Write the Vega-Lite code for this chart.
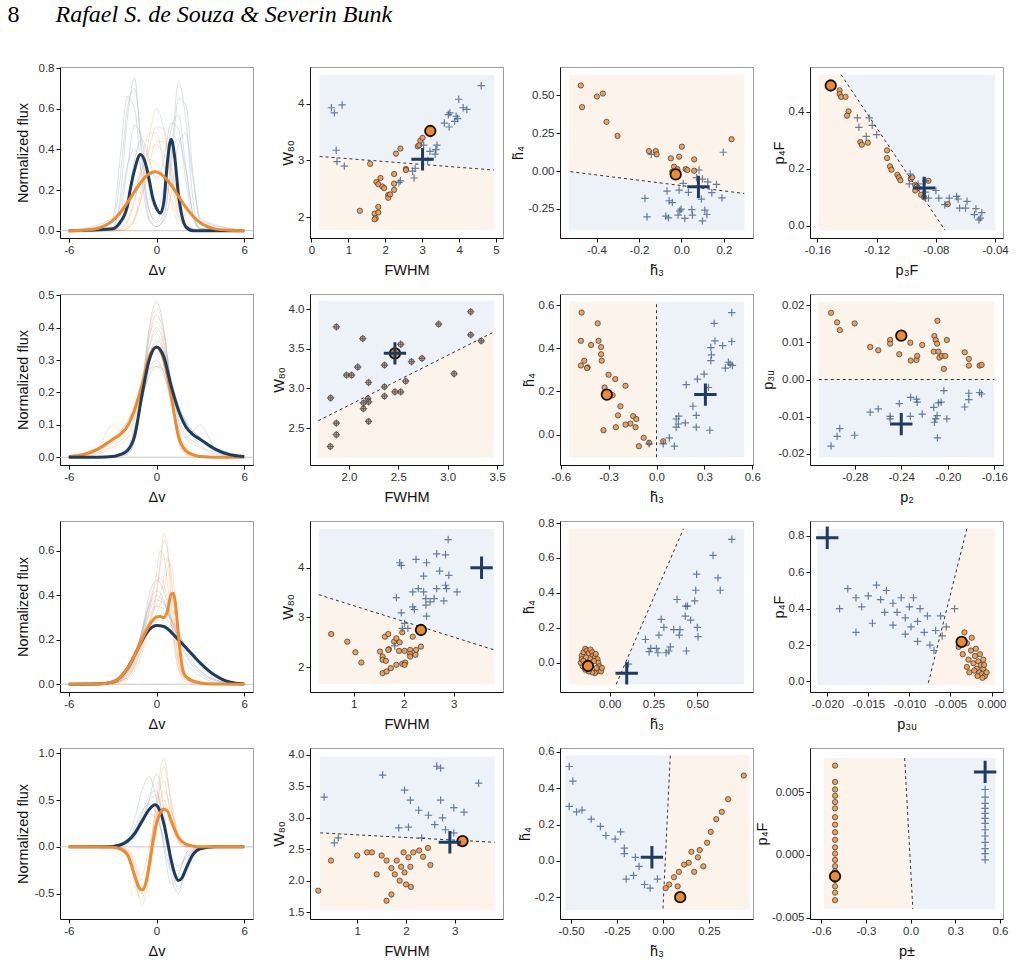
{
"$schema":"https://vega.github.io/schema/vega-lite/v6.json",
"padding":{"left":7,"top":2,"right":0,"bottom":0},
"title":{"text":"8","subtitle":"\u200b\u00a0\u00a0\u00a0\u00a0\u00a0\u00a0\u00a0\u00a0Rafael S. de Souza & Severin Bunk","anchor":"start","frame":"bounds","font":"Liberation Serif","fontSize":24,"fontWeight":"normal","color":"#000","subtitleFont":"Liberation Serif","subtitleFontSize":24,"subtitleFontStyle":"italic","subtitleColor":"#000","subtitlePadding":-24,"offset":35,"dx":-7},
"config":{
"font":"Liberation Sans",
"view":{"stroke":"#9e9e9e","strokeWidth":1},
"axis":{"grid":false,"domainColor":"#111","domainWidth":1,"tickColor":"#111","tickSize":4,"labelColor":"#303030","labelFont":"Liberation Sans","labelFontSize":11.5,"labelPadding":2,"labelFlush":false,"labelOverlap":false,"titleFont":"Liberation Sans","titleFontSize":14.5,"titleFontWeight":"normal","titleColor":"#111"},
"axisX":{"titlePadding":8},
"axisY":{"titlePadding":2},
"locale":{"number":{"decimal":".","thousands":",","grouping":[3],"currency":["$",""],"minus":"-"}}
},
"datasets":{
"r1c1":[
{"s":"z","x":-6.6,"y":0},{"s":"z","x":6.6,"y":0},
{"s":"b1","x":-6,"y":0},{"s":"b1","x":-3,"y":0.01},{"s":"b1","x":-2.5,"y":0.15},{"s":"b1","x":-2,"y":0.55},{"s":"b1","x":-1.5,"y":0.75},{"s":"b1","x":-1,"y":0.35},{"s":"b1","x":-0.5,"y":0.06},{"s":"b1","x":0,"y":0.02},{"s":"b1","x":0.5,"y":0.06},{"s":"b1","x":1,"y":0.35},{"s":"b1","x":1.5,"y":0.73},{"s":"b1","x":2,"y":0.55},{"s":"b1","x":2.5,"y":0.15},{"s":"b1","x":3,"y":0.01},{"s":"b1","x":6,"y":0},
{"s":"b2","x":-6,"y":0},{"s":"b2","x":-3,"y":0.01},{"s":"b2","x":-2.5,"y":0.07},{"s":"b2","x":-2,"y":0.3},{"s":"b2","x":-1.5,"y":0.52},{"s":"b2","x":-1,"y":0.45},{"s":"b2","x":-0.5,"y":0.2},{"s":"b2","x":0,"y":0.1},{"s":"b2","x":0.5,"y":0.22},{"s":"b2","x":1,"y":0.5},{"s":"b2","x":1.5,"y":0.57},{"s":"b2","x":2,"y":0.32},{"s":"b2","x":2.5,"y":0.08},{"s":"b2","x":3,"y":0.01},{"s":"b2","x":6,"y":0},
{"s":"b3","x":-6,"y":0},{"s":"b3","x":-3,"y":0.06},{"s":"b3","x":-2.5,"y":0.35},{"s":"b3","x":-2,"y":0.66},{"s":"b3","x":-1.5,"y":0.6},{"s":"b3","x":-1,"y":0.25},{"s":"b3","x":-0.5,"y":0.05},{"s":"b3","x":0,"y":0.02},{"s":"b3","x":0.5,"y":0.05},{"s":"b3","x":1,"y":0.18},{"s":"b3","x":1.5,"y":0.42},{"s":"b3","x":2,"y":0.48},{"s":"b3","x":2.5,"y":0.25},{"s":"b3","x":3,"y":0.05},{"s":"b3","x":6,"y":0},
{"s":"b4","x":-6,"y":0},{"s":"b4","x":-3,"y":0},{"s":"b4","x":-2.5,"y":0.02},{"s":"b4","x":-2,"y":0.12},{"s":"b4","x":-1.5,"y":0.35},{"s":"b4","x":-1,"y":0.45},{"s":"b4","x":-0.5,"y":0.35},{"s":"b4","x":0,"y":0.25},{"s":"b4","x":0.5,"y":0.35},{"s":"b4","x":1,"y":0.53},{"s":"b4","x":1.5,"y":0.5},{"s":"b4","x":2,"y":0.25},{"s":"b4","x":2.5,"y":0.06},{"s":"b4","x":3,"y":0.01},{"s":"b4","x":6,"y":0},
{"s":"b5","x":-6,"y":0},{"s":"b5","x":-3,"y":0.02},{"s":"b5","x":-2.5,"y":0.12},{"s":"b5","x":-2,"y":0.32},{"s":"b5","x":-1.5,"y":0.4},{"s":"b5","x":-1,"y":0.28},{"s":"b5","x":-0.5,"y":0.1},{"s":"b5","x":0,"y":0.04},{"s":"b5","x":0.5,"y":0.08},{"s":"b5","x":1,"y":0.3},{"s":"b5","x":1.5,"y":0.65},{"s":"b5","x":2,"y":0.62},{"s":"b5","x":2.5,"y":0.28},{"s":"b5","x":3,"y":0.06},{"s":"b5","x":6,"y":0},
{"s":"b6","x":-6,"y":0},{"s":"b6","x":-3,"y":0.04},{"s":"b6","x":-2.5,"y":0.25},{"s":"b6","x":-2,"y":0.6},{"s":"b6","x":-1.5,"y":0.7},{"s":"b6","x":-1,"y":0.4},{"s":"b6","x":-0.5,"y":0.1},{"s":"b6","x":0,"y":0.05},{"s":"b6","x":0.5,"y":0.15},{"s":"b6","x":1,"y":0.38},{"s":"b6","x":1.5,"y":0.45},{"s":"b6","x":2,"y":0.3},{"s":"b6","x":2.5,"y":0.08},{"s":"b6","x":3,"y":0.01},{"s":"b6","x":6,"y":0},
{"s":"o1","x":-6,"y":0},{"s":"o1","x":-3,"y":0},{"s":"o1","x":-2.5,"y":0},{"s":"o1","x":-2,"y":0.01},{"s":"o1","x":-1.5,"y":0.06},{"s":"o1","x":-1,"y":0.22},{"s":"o1","x":-0.5,"y":0.46},{"s":"o1","x":0,"y":0.6},{"s":"o1","x":0.5,"y":0.5},{"s":"o1","x":1,"y":0.26},{"s":"o1","x":1.5,"y":0.08},{"s":"o1","x":2,"y":0.02},{"s":"o1","x":2.5,"y":0},{"s":"o1","x":3,"y":0},{"s":"o1","x":6,"y":0},
{"s":"o2","x":-6,"y":0},{"s":"o2","x":-3,"y":0},{"s":"o2","x":-2.5,"y":0.005},{"s":"o2","x":-2,"y":0.04},{"s":"o2","x":-1.5,"y":0.14},{"s":"o2","x":-1,"y":0.34},{"s":"o2","x":-0.5,"y":0.48},{"s":"o2","x":0,"y":0.48},{"s":"o2","x":0.5,"y":0.32},{"s":"o2","x":1,"y":0.14},{"s":"o2","x":1.5,"y":0.04},{"s":"o2","x":2,"y":0.01},{"s":"o2","x":2.5,"y":0},{"s":"o2","x":3,"y":0},{"s":"o2","x":6,"y":0},
{"s":"o3","x":-6,"y":0},{"s":"o3","x":-3,"y":0.005},{"s":"o3","x":-2.5,"y":0.01},{"s":"o3","x":-2,"y":0.05},{"s":"o3","x":-1.5,"y":0.15},{"s":"o3","x":-1,"y":0.3},{"s":"o3","x":-0.5,"y":0.4},{"s":"o3","x":0,"y":0.42},{"s":"o3","x":0.5,"y":0.38},{"s":"o3","x":1,"y":0.27},{"s":"o3","x":1.5,"y":0.13},{"s":"o3","x":2,"y":0.04},{"s":"o3","x":2.5,"y":0.01},{"s":"o3","x":3,"y":0},{"s":"o3","x":6,"y":0},
{"s":"o4","x":-6,"y":0},{"s":"o4","x":-3,"y":0},{"s":"o4","x":-2.5,"y":0},{"s":"o4","x":-2,"y":0.01},{"s":"o4","x":-1.5,"y":0.05},{"s":"o4","x":-1,"y":0.18},{"s":"o4","x":-0.5,"y":0.4},{"s":"o4","x":0,"y":0.51},{"s":"o4","x":0.5,"y":0.5},{"s":"o4","x":1,"y":0.3},{"s":"o4","x":1.5,"y":0.11},{"s":"o4","x":2,"y":0.03},{"s":"o4","x":2.5,"y":0.005},{"s":"o4","x":3,"y":0},{"s":"o4","x":6,"y":0},
{"s":"o5","x":-6,"y":0},{"s":"o5","x":-3,"y":0.01},{"s":"o5","x":-2.5,"y":0.04},{"s":"o5","x":-2,"y":0.1},{"s":"o5","x":-1.5,"y":0.2},{"s":"o5","x":-1,"y":0.3},{"s":"o5","x":-0.5,"y":0.35},{"s":"o5","x":0,"y":0.33},{"s":"o5","x":0.5,"y":0.26},{"s":"o5","x":1,"y":0.16},{"s":"o5","x":1.5,"y":0.07},{"s":"o5","x":2,"y":0.02},{"s":"o5","x":2.5,"y":0.01},{"s":"o5","x":3,"y":0},{"s":"o5","x":6,"y":0},
{"s":"o6","x":-6,"y":0},{"s":"o6","x":-3,"y":0},{"s":"o6","x":-2.5,"y":0.005},{"s":"o6","x":-2,"y":0.02},{"s":"o6","x":-1.5,"y":0.06},{"s":"o6","x":-1,"y":0.17},{"s":"o6","x":-0.5,"y":0.32},{"s":"o6","x":0,"y":0.44},{"s":"o6","x":0.5,"y":0.44},{"s":"o6","x":1,"y":0.32},{"s":"o6","x":1.5,"y":0.17},{"s":"o6","x":2,"y":0.06},{"s":"o6","x":2.5,"y":0.01},{"s":"o6","x":3,"y":0},{"s":"o6","x":6,"y":0},
{"s":"B","x":-6,"y":0},{"s":"B","x":-3,"y":0.01},{"s":"B","x":-2.5,"y":0.04},{"s":"B","x":-2,"y":0.12},{"s":"B","x":-1.75,"y":0.22},{"s":"B","x":-1.5,"y":0.3},{"s":"B","x":-1.1,"y":0.375},{"s":"B","x":-0.75,"y":0.33},{"s":"B","x":-0.5,"y":0.25},{"s":"B","x":-0.25,"y":0.16},{"s":"B","x":0,"y":0.11},{"s":"B","x":0.27,"y":0.087},{"s":"B","x":0.5,"y":0.14},{"s":"B","x":0.75,"y":0.34},{"s":"B","x":1,"y":0.45},{"s":"B","x":1.25,"y":0.36},{"s":"B","x":1.5,"y":0.18},{"s":"B","x":1.75,"y":0.07},{"s":"B","x":2,"y":0.02},{"s":"B","x":2.5,"y":0},{"s":"B","x":6,"y":0},
{"s":"O","x":-6,"y":0},{"s":"O","x":-5,"y":0.002},{"s":"O","x":-4,"y":0.012},{"s":"O","x":-3,"y":0.05},{"s":"O","x":-2.5,"y":0.087},{"s":"O","x":-2,"y":0.137},{"s":"O","x":-1.5,"y":0.193},{"s":"O","x":-1,"y":0.245},{"s":"O","x":-0.5,"y":0.28},{"s":"O","x":-0.1,"y":0.29},{"s":"O","x":0.5,"y":0.268},{"s":"O","x":1,"y":0.225},{"s":"O","x":1.5,"y":0.17},{"s":"O","x":2,"y":0.116},{"s":"O","x":2.5,"y":0.071},{"s":"O","x":3,"y":0.039},{"s":"O","x":4,"y":0.009},{"s":"O","x":5,"y":0.002},{"s":"O","x":6,"y":0}
],
"r2c1":[
{"s":"z","x":-6.6,"y":0},{"s":"z","x":6.6,"y":0},
{"s":"b1","x":-6,"y":0},{"s":"b1","x":-4,"y":0},{"s":"b1","x":-3,"y":0},{"s":"b1","x":-2.5,"y":0.003},{"s":"b1","x":-2,"y":0.01},{"s":"b1","x":-1.5,"y":0.05},{"s":"b1","x":-1,"y":0.2},{"s":"b1","x":-0.5,"y":0.4},{"s":"b1","x":0,"y":0.48},{"s":"b1","x":0.5,"y":0.4},{"s":"b1","x":1,"y":0.22},{"s":"b1","x":1.5,"y":0.11},{"s":"b1","x":2,"y":0.06},{"s":"b1","x":2.5,"y":0.04},{"s":"b1","x":3,"y":0.03},{"s":"b1","x":4,"y":0.01},{"s":"b1","x":6,"y":0},
{"s":"b2","x":-6,"y":0},{"s":"b2","x":-4,"y":0},{"s":"b2","x":-3,"y":0.003},{"s":"b2","x":-2.5,"y":0.008},{"s":"b2","x":-2,"y":0.02},{"s":"b2","x":-1.5,"y":0.07},{"s":"b2","x":-1,"y":0.2},{"s":"b2","x":-0.5,"y":0.34},{"s":"b2","x":0,"y":0.4},{"s":"b2","x":0.5,"y":0.35},{"s":"b2","x":1,"y":0.24},{"s":"b2","x":1.5,"y":0.15},{"s":"b2","x":2,"y":0.09},{"s":"b2","x":2.5,"y":0.06},{"s":"b2","x":3,"y":0.045},{"s":"b2","x":4,"y":0.02},{"s":"b2","x":6,"y":0},
{"s":"b3","x":-6,"y":0},{"s":"b3","x":-4,"y":0},{"s":"b3","x":-3,"y":0.003},{"s":"b3","x":-2.5,"y":0.008},{"s":"b3","x":-2,"y":0.02},{"s":"b3","x":-1.5,"y":0.08},{"s":"b3","x":-1,"y":0.18},{"s":"b3","x":-0.5,"y":0.27},{"s":"b3","x":0,"y":0.3},{"s":"b3","x":0.5,"y":0.26},{"s":"b3","x":1,"y":0.17},{"s":"b3","x":1.5,"y":0.09},{"s":"b3","x":2,"y":0.06},{"s":"b3","x":2.5,"y":0.08},{"s":"b3","x":3,"y":0.1},{"s":"b3","x":4,"y":0.03},{"s":"b3","x":6,"y":0},
{"s":"b4","x":-6,"y":0},{"s":"b4","x":-4,"y":0},{"s":"b4","x":-3,"y":0.002},{"s":"b4","x":-2.5,"y":0.005},{"s":"b4","x":-2,"y":0.015},{"s":"b4","x":-1.5,"y":0.06},{"s":"b4","x":-1,"y":0.19},{"s":"b4","x":-0.5,"y":0.31},{"s":"b4","x":0,"y":0.36},{"s":"b4","x":0.5,"y":0.33},{"s":"b4","x":1,"y":0.24},{"s":"b4","x":1.5,"y":0.16},{"s":"b4","x":2,"y":0.11},{"s":"b4","x":2.5,"y":0.08},{"s":"b4","x":3,"y":0.06},{"s":"b4","x":4,"y":0.03},{"s":"b4","x":6,"y":0.005},
{"s":"b5","x":-6,"y":0},{"s":"b5","x":-4,"y":0.002},{"s":"b5","x":-3,"y":0.005},{"s":"b5","x":-2.5,"y":0.012},{"s":"b5","x":-2,"y":0.03},{"s":"b5","x":-1.5,"y":0.09},{"s":"b5","x":-1,"y":0.18},{"s":"b5","x":-0.5,"y":0.25},{"s":"b5","x":0,"y":0.28},{"s":"b5","x":0.5,"y":0.27},{"s":"b5","x":1,"y":0.22},{"s":"b5","x":1.5,"y":0.16},{"s":"b5","x":2,"y":0.11},{"s":"b5","x":2.5,"y":0.08},{"s":"b5","x":3,"y":0.06},{"s":"b5","x":4,"y":0.03},{"s":"b5","x":6,"y":0.005},
{"s":"b6","x":-6,"y":0},{"s":"b6","x":-4,"y":0},{"s":"b6","x":-3,"y":0.001},{"s":"b6","x":-2.5,"y":0.004},{"s":"b6","x":-2,"y":0.01},{"s":"b6","x":-1.5,"y":0.05},{"s":"b6","x":-1,"y":0.19},{"s":"b6","x":-0.5,"y":0.37},{"s":"b6","x":0,"y":0.44},{"s":"b6","x":0.5,"y":0.38},{"s":"b6","x":1,"y":0.23},{"s":"b6","x":1.5,"y":0.12},{"s":"b6","x":2,"y":0.07},{"s":"b6","x":2.5,"y":0.05},{"s":"b6","x":3,"y":0.035},{"s":"b6","x":4,"y":0.015},{"s":"b6","x":6,"y":0},
{"s":"o1","x":-6,"y":0},{"s":"o1","x":-4,"y":0.01},{"s":"o1","x":-3,"y":0.03},{"s":"o1","x":-2.5,"y":0.04},{"s":"o1","x":-2,"y":0.06},{"s":"o1","x":-1.5,"y":0.11},{"s":"o1","x":-1,"y":0.22},{"s":"o1","x":-0.5,"y":0.39},{"s":"o1","x":0,"y":0.46},{"s":"o1","x":0.5,"y":0.39},{"s":"o1","x":1,"y":0.2},{"s":"o1","x":1.5,"y":0.05},{"s":"o1","x":2,"y":0.01},{"s":"o1","x":2.5,"y":0.003},{"s":"o1","x":3,"y":0},{"s":"o1","x":4,"y":0},{"s":"o1","x":6,"y":0},
{"s":"o2","x":-6,"y":0},{"s":"o2","x":-4,"y":0.02},{"s":"o2","x":-3,"y":0.045},{"s":"o2","x":-2.5,"y":0.06},{"s":"o2","x":-2,"y":0.09},{"s":"o2","x":-1.5,"y":0.15},{"s":"o2","x":-1,"y":0.24},{"s":"o2","x":-0.5,"y":0.34},{"s":"o2","x":0,"y":0.38},{"s":"o2","x":0.5,"y":0.33},{"s":"o2","x":1,"y":0.2},{"s":"o2","x":1.5,"y":0.07},{"s":"o2","x":2,"y":0.02},{"s":"o2","x":2.5,"y":0.008},{"s":"o2","x":3,"y":0.003},{"s":"o2","x":4,"y":0},{"s":"o2","x":6,"y":0},
{"s":"o3","x":-6,"y":0},{"s":"o3","x":-4,"y":0.03},{"s":"o3","x":-3,"y":0.1},{"s":"o3","x":-2.5,"y":0.08},{"s":"o3","x":-2,"y":0.06},{"s":"o3","x":-1.5,"y":0.09},{"s":"o3","x":-1,"y":0.17},{"s":"o3","x":-0.5,"y":0.26},{"s":"o3","x":0,"y":0.29},{"s":"o3","x":0.5,"y":0.26},{"s":"o3","x":1,"y":0.18},{"s":"o3","x":1.5,"y":0.08},{"s":"o3","x":2,"y":0.02},{"s":"o3","x":2.5,"y":0.008},{"s":"o3","x":3,"y":0.003},{"s":"o3","x":4,"y":0},{"s":"o3","x":6,"y":0},
{"s":"o4","x":-6,"y":0.005},{"s":"o4","x":-4,"y":0.03},{"s":"o4","x":-3,"y":0.06},{"s":"o4","x":-2.5,"y":0.08},{"s":"o4","x":-2,"y":0.11},{"s":"o4","x":-1.5,"y":0.16},{"s":"o4","x":-1,"y":0.24},{"s":"o4","x":-0.5,"y":0.32},{"s":"o4","x":0,"y":0.35},{"s":"o4","x":0.5,"y":0.31},{"s":"o4","x":1,"y":0.19},{"s":"o4","x":1.5,"y":0.06},{"s":"o4","x":2,"y":0.015},{"s":"o4","x":2.5,"y":0.005},{"s":"o4","x":3,"y":0.002},{"s":"o4","x":4,"y":0},{"s":"o4","x":6,"y":0},
{"s":"o5","x":-6,"y":0.005},{"s":"o5","x":-4,"y":0.03},{"s":"o5","x":-3,"y":0.06},{"s":"o5","x":-2.5,"y":0.08},{"s":"o5","x":-2,"y":0.11},{"s":"o5","x":-1.5,"y":0.16},{"s":"o5","x":-1,"y":0.22},{"s":"o5","x":-0.5,"y":0.27},{"s":"o5","x":0,"y":0.28},{"s":"o5","x":0.5,"y":0.25},{"s":"o5","x":1,"y":0.18},{"s":"o5","x":1.5,"y":0.09},{"s":"o5","x":2,"y":0.03},{"s":"o5","x":2.5,"y":0.012},{"s":"o5","x":3,"y":0.005},{"s":"o5","x":4,"y":0.002},{"s":"o5","x":6,"y":0},
{"s":"o6","x":-6,"y":0},{"s":"o6","x":-4,"y":0.015},{"s":"o6","x":-3,"y":0.035},{"s":"o6","x":-2.5,"y":0.05},{"s":"o6","x":-2,"y":0.07},{"s":"o6","x":-1.5,"y":0.12},{"s":"o6","x":-1,"y":0.23},{"s":"o6","x":-0.5,"y":0.37},{"s":"o6","x":0,"y":0.42},{"s":"o6","x":0.5,"y":0.36},{"s":"o6","x":1,"y":0.19},{"s":"o6","x":1.5,"y":0.05},{"s":"o6","x":2,"y":0.01},{"s":"o6","x":2.5,"y":0.004},{"s":"o6","x":3,"y":0.001},{"s":"o6","x":4,"y":0},{"s":"o6","x":6,"y":0},
{"s":"B","x":-6,"y":0},{"s":"B","x":-4,"y":0},{"s":"B","x":-3,"y":0.002},{"s":"B","x":-2.5,"y":0.008},{"s":"B","x":-2,"y":0.02},{"s":"B","x":-1.5,"y":0.065},{"s":"B","x":-1,"y":0.19},{"s":"B","x":-0.5,"y":0.3},{"s":"B","x":0,"y":0.34},{"s":"B","x":0.5,"y":0.31},{"s":"B","x":1,"y":0.22},{"s":"B","x":1.5,"y":0.145},{"s":"B","x":2,"y":0.095},{"s":"B","x":2.5,"y":0.07},{"s":"B","x":3,"y":0.055},{"s":"B","x":4,"y":0.025},{"s":"B","x":5,"y":0.008},{"s":"B","x":6,"y":0.002},
{"s":"O","x":-6,"y":0.002},{"s":"O","x":-5,"y":0.008},{"s":"O","x":-4,"y":0.025},{"s":"O","x":-3,"y":0.055},{"s":"O","x":-2.5,"y":0.07},{"s":"O","x":-2,"y":0.095},{"s":"O","x":-1.5,"y":0.145},{"s":"O","x":-1,"y":0.22},{"s":"O","x":-0.5,"y":0.31},{"s":"O","x":0,"y":0.34},{"s":"O","x":0.5,"y":0.3},{"s":"O","x":1,"y":0.19},{"s":"O","x":1.5,"y":0.065},{"s":"O","x":2,"y":0.02},{"s":"O","x":2.5,"y":0.008},{"s":"O","x":3,"y":0.002},{"s":"O","x":4,"y":0},{"s":"O","x":6,"y":0}
],
"r3c1":[
{"s":"z","x":-6.6,"y":0},{"s":"z","x":6.6,"y":0},
{"s":"b1","x":-6,"y":0},{"s":"b1","x":-3,"y":0.005},{"s":"b1","x":-2,"y":0.05},{"s":"b1","x":-1.5,"y":0.12},{"s":"b1","x":-1,"y":0.24},{"s":"b1","x":-0.5,"y":0.4},{"s":"b1","x":0,"y":0.47},{"s":"b1","x":0.5,"y":0.42},{"s":"b1","x":1,"y":0.3},{"s":"b1","x":1.5,"y":0.2},{"s":"b1","x":2,"y":0.13},{"s":"b1","x":2.5,"y":0.08},{"s":"b1","x":3,"y":0.05},{"s":"b1","x":4,"y":0.015},{"s":"b1","x":6,"y":0},
{"s":"b2","x":-6,"y":0},{"s":"b2","x":-3,"y":0.01},{"s":"b2","x":-2,"y":0.06},{"s":"b2","x":-1.5,"y":0.13},{"s":"b2","x":-1,"y":0.24},{"s":"b2","x":-0.5,"y":0.35},{"s":"b2","x":0,"y":0.4},{"s":"b2","x":0.5,"y":0.37},{"s":"b2","x":1,"y":0.29},{"s":"b2","x":1.5,"y":0.21},{"s":"b2","x":2,"y":0.14},{"s":"b2","x":2.5,"y":0.09},{"s":"b2","x":3,"y":0.06},{"s":"b2","x":4,"y":0.02},{"s":"b2","x":6,"y":0},
{"s":"b3","x":-6,"y":0},{"s":"b3","x":-3,"y":0.01},{"s":"b3","x":-2,"y":0.06},{"s":"b3","x":-1.5,"y":0.13},{"s":"b3","x":-1,"y":0.22},{"s":"b3","x":-0.5,"y":0.31},{"s":"b3","x":0,"y":0.35},{"s":"b3","x":0.5,"y":0.34},{"s":"b3","x":1,"y":0.29},{"s":"b3","x":1.5,"y":0.23},{"s":"b3","x":2,"y":0.17},{"s":"b3","x":2.5,"y":0.12},{"s":"b3","x":3,"y":0.08},{"s":"b3","x":4,"y":0.03},{"s":"b3","x":6,"y":0.001},
{"s":"b4","x":-6,"y":0},{"s":"b4","x":-3,"y":0.005},{"s":"b4","x":-2,"y":0.04},{"s":"b4","x":-1.5,"y":0.1},{"s":"b4","x":-1,"y":0.22},{"s":"b4","x":-0.5,"y":0.36},{"s":"b4","x":0,"y":0.42},{"s":"b4","x":0.5,"y":0.38},{"s":"b4","x":1,"y":0.27},{"s":"b4","x":1.5,"y":0.17},{"s":"b4","x":2,"y":0.1},{"s":"b4","x":2.5,"y":0.06},{"s":"b4","x":3,"y":0.035},{"s":"b4","x":4,"y":0.01},{"s":"b4","x":6,"y":0},
{"s":"b5","x":-6,"y":0},{"s":"b5","x":-3,"y":0.01},{"s":"b5","x":-2,"y":0.07},{"s":"b5","x":-1.5,"y":0.14},{"s":"b5","x":-1,"y":0.22},{"s":"b5","x":-0.5,"y":0.28},{"s":"b5","x":0,"y":0.31},{"s":"b5","x":0.5,"y":0.3},{"s":"b5","x":1,"y":0.27},{"s":"b5","x":1.5,"y":0.22},{"s":"b5","x":2,"y":0.17},{"s":"b5","x":2.5,"y":0.13},{"s":"b5","x":3,"y":0.09},{"s":"b5","x":4,"y":0.04},{"s":"b5","x":6,"y":0.002},
{"s":"b6","x":-6,"y":0},{"s":"b6","x":-3,"y":0.005},{"s":"b6","x":-2,"y":0.05},{"s":"b6","x":-1.5,"y":0.12},{"s":"b6","x":-1,"y":0.23},{"s":"b6","x":-0.5,"y":0.33},{"s":"b6","x":0,"y":0.38},{"s":"b6","x":0.5,"y":0.36},{"s":"b6","x":1,"y":0.3},{"s":"b6","x":1.5,"y":0.24},{"s":"b6","x":2,"y":0.16},{"s":"b6","x":2.5,"y":0.1},{"s":"b6","x":3,"y":0.06},{"s":"b6","x":4,"y":0.02},{"s":"b6","x":6,"y":0},
{"s":"o1","x":-6,"y":0},{"s":"o1","x":-3,"y":0.005},{"s":"o1","x":-2,"y":0.03},{"s":"o1","x":-1.5,"y":0.08},{"s":"o1","x":-1,"y":0.17},{"s":"o1","x":-0.5,"y":0.28},{"s":"o1","x":0,"y":0.42},{"s":"o1","x":0.25,"y":0.55},{"s":"o1","x":0.5,"y":0.68},{"s":"o1","x":0.75,"y":0.62},{"s":"o1","x":1,"y":0.45},{"s":"o1","x":1.25,"y":0.25},{"s":"o1","x":1.5,"y":0.1},{"s":"o1","x":2,"y":0.02},{"s":"o1","x":3,"y":0.003},{"s":"o1","x":6,"y":0},
{"s":"o2","x":-6,"y":0},{"s":"o2","x":-3,"y":0.005},{"s":"o2","x":-2,"y":0.04},{"s":"o2","x":-1.5,"y":0.1},{"s":"o2","x":-1,"y":0.2},{"s":"o2","x":-0.5,"y":0.33},{"s":"o2","x":0,"y":0.5},{"s":"o2","x":0.25,"y":0.6},{"s":"o2","x":0.5,"y":0.58},{"s":"o2","x":0.75,"y":0.45},{"s":"o2","x":1,"y":0.3},{"s":"o2","x":1.25,"y":0.15},{"s":"o2","x":1.5,"y":0.07},{"s":"o2","x":2,"y":0.02},{"s":"o2","x":3,"y":0.003},{"s":"o2","x":6,"y":0},
{"s":"o3","x":-6,"y":0},{"s":"o3","x":-3,"y":0.005},{"s":"o3","x":-2,"y":0.03},{"s":"o3","x":-1.5,"y":0.08},{"s":"o3","x":-1,"y":0.16},{"s":"o3","x":-0.5,"y":0.25},{"s":"o3","x":0,"y":0.32},{"s":"o3","x":0.25,"y":0.36},{"s":"o3","x":0.5,"y":0.42},{"s":"o3","x":0.75,"y":0.52},{"s":"o3","x":1,"y":0.54},{"s":"o3","x":1.25,"y":0.4},{"s":"o3","x":1.5,"y":0.18},{"s":"o3","x":2,"y":0.03},{"s":"o3","x":3,"y":0.003},{"s":"o3","x":6,"y":0},
{"s":"o4","x":-6,"y":0},{"s":"o4","x":-3,"y":0.01},{"s":"o4","x":-2,"y":0.05},{"s":"o4","x":-1.5,"y":0.12},{"s":"o4","x":-1,"y":0.24},{"s":"o4","x":-0.5,"y":0.37},{"s":"o4","x":0,"y":0.46},{"s":"o4","x":0.25,"y":0.48},{"s":"o4","x":0.5,"y":0.45},{"s":"o4","x":0.75,"y":0.38},{"s":"o4","x":1,"y":0.28},{"s":"o4","x":1.25,"y":0.18},{"s":"o4","x":1.5,"y":0.1},{"s":"o4","x":2,"y":0.03},{"s":"o4","x":3,"y":0.005},{"s":"o4","x":6,"y":0},
{"s":"o5","x":-6,"y":0},{"s":"o5","x":-3,"y":0},{"s":"o5","x":-2,"y":0.02},{"s":"o5","x":-1.5,"y":0.06},{"s":"o5","x":-1,"y":0.14},{"s":"o5","x":-0.5,"y":0.26},{"s":"o5","x":0,"y":0.4},{"s":"o5","x":0.25,"y":0.52},{"s":"o5","x":0.5,"y":0.65},{"s":"o5","x":0.75,"y":0.6},{"s":"o5","x":1,"y":0.38},{"s":"o5","x":1.25,"y":0.18},{"s":"o5","x":1.5,"y":0.07},{"s":"o5","x":2,"y":0.01},{"s":"o5","x":3,"y":0},{"s":"o5","x":6,"y":0},
{"s":"o6","x":-6,"y":0},{"s":"o6","x":-3,"y":0.005},{"s":"o6","x":-2,"y":0.03},{"s":"o6","x":-1.5,"y":0.09},{"s":"o6","x":-1,"y":0.18},{"s":"o6","x":-0.5,"y":0.28},{"s":"o6","x":0,"y":0.36},{"s":"o6","x":0.25,"y":0.4},{"s":"o6","x":0.5,"y":0.48},{"s":"o6","x":0.75,"y":0.57},{"s":"o6","x":1,"y":0.5},{"s":"o6","x":1.25,"y":0.3},{"s":"o6","x":1.5,"y":0.12},{"s":"o6","x":2,"y":0.02},{"s":"o6","x":3,"y":0.003},{"s":"o6","x":6,"y":0},
{"s":"B","x":-6,"y":0},{"s":"B","x":-4,"y":0.001},{"s":"B","x":-3,"y":0.01},{"s":"B","x":-2.5,"y":0.03},{"s":"B","x":-2,"y":0.07},{"s":"B","x":-1.5,"y":0.13},{"s":"B","x":-1,"y":0.195},{"s":"B","x":-0.5,"y":0.245},{"s":"B","x":0,"y":0.264},{"s":"B","x":0.5,"y":0.26},{"s":"B","x":1,"y":0.235},{"s":"B","x":1.5,"y":0.2},{"s":"B","x":2,"y":0.165},{"s":"B","x":2.5,"y":0.13},{"s":"B","x":3,"y":0.095},{"s":"B","x":3.5,"y":0.065},{"s":"B","x":4,"y":0.04},{"s":"B","x":4.5,"y":0.022},{"s":"B","x":5,"y":0.01},{"s":"B","x":6,"y":0.001},
{"s":"O","x":-6,"y":0},{"s":"O","x":-4,"y":0.001},{"s":"O","x":-3,"y":0.01},{"s":"O","x":-2.5,"y":0.03},{"s":"O","x":-2,"y":0.07},{"s":"O","x":-1.5,"y":0.13},{"s":"O","x":-1,"y":0.2},{"s":"O","x":-0.5,"y":0.265},{"s":"O","x":0,"y":0.302},{"s":"O","x":0.25,"y":0.305},{"s":"O","x":0.5,"y":0.3},{"s":"O","x":0.75,"y":0.33},{"s":"O","x":1,"y":0.405},{"s":"O","x":1.15,"y":0.41},{"s":"O","x":1.35,"y":0.33},{"s":"O","x":1.5,"y":0.22},{"s":"O","x":1.75,"y":0.08},{"s":"O","x":2,"y":0.035},{"s":"O","x":2.5,"y":0.015},{"s":"O","x":3,"y":0.006},{"s":"O","x":4,"y":0.001},{"s":"O","x":6,"y":0}
],
"r4c1":[
{"s":"z","x":-6.6,"y":0},{"s":"z","x":6.6,"y":0},
{"s":"o1","x":-6,"y":0},{"s":"o1","x":-3,"y":0},{"s":"o1","x":-2,"y":-0.05},{"s":"o1","x":-1.5,"y":-0.3},{"s":"o1","x":-1,"y":-0.62},{"s":"o1","x":-0.5,"y":-0.3},{"s":"o1","x":0,"y":0.35},{"s":"o1","x":0.5,"y":0.85},{"s":"o1","x":1,"y":0.5},{"s":"o1","x":1.5,"y":0.12},{"s":"o1","x":2,"y":0.02},{"s":"o1","x":2.5,"y":0},{"s":"o1","x":3,"y":0},{"s":"o1","x":6,"y":0},
{"s":"o2","x":-6,"y":0},{"s":"o2","x":-3,"y":0},{"s":"o2","x":-2,"y":-0.03},{"s":"o2","x":-1.5,"y":-0.2},{"s":"o2","x":-1,"y":-0.45},{"s":"o2","x":-0.5,"y":-0.2},{"s":"o2","x":0,"y":0.3},{"s":"o2","x":0.5,"y":0.6},{"s":"o2","x":1,"y":0.4},{"s":"o2","x":1.5,"y":0.1},{"s":"o2","x":2,"y":0.02},{"s":"o2","x":2.5,"y":0},{"s":"o2","x":3,"y":0},{"s":"o2","x":6,"y":0},
{"s":"o3","x":-6,"y":0},{"s":"o3","x":-3,"y":0},{"s":"o3","x":-2,"y":-0.08},{"s":"o3","x":-1.5,"y":-0.35},{"s":"o3","x":-1,"y":-0.5},{"s":"o3","x":-0.5,"y":-0.1},{"s":"o3","x":0,"y":0.45},{"s":"o3","x":0.5,"y":0.7},{"s":"o3","x":1,"y":0.3},{"s":"o3","x":1.5,"y":0.05},{"s":"o3","x":2,"y":0},{"s":"o3","x":2.5,"y":0},{"s":"o3","x":3,"y":0},{"s":"o3","x":6,"y":0},
{"s":"o4","x":-6,"y":0},{"s":"o4","x":-3,"y":0},{"s":"o4","x":-2,"y":-0.02},{"s":"o4","x":-1.5,"y":-0.15},{"s":"o4","x":-1,"y":-0.35},{"s":"o4","x":-0.5,"y":-0.25},{"s":"o4","x":0,"y":0.15},{"s":"o4","x":0.5,"y":0.45},{"s":"o4","x":1,"y":0.38},{"s":"o4","x":1.5,"y":0.15},{"s":"o4","x":2,"y":0.04},{"s":"o4","x":2.5,"y":0.01},{"s":"o4","x":3,"y":0},{"s":"o4","x":6,"y":0},
{"s":"o5","x":-6,"y":0},{"s":"o5","x":-3,"y":-0.01},{"s":"o5","x":-2,"y":-0.06},{"s":"o5","x":-1.5,"y":-0.4},{"s":"o5","x":-1,"y":-0.55},{"s":"o5","x":-0.5,"y":-0.15},{"s":"o5","x":0,"y":0.5},{"s":"o5","x":0.5,"y":0.95},{"s":"o5","x":1,"y":0.45},{"s":"o5","x":1.5,"y":0.08},{"s":"o5","x":2,"y":0.01},{"s":"o5","x":2.5,"y":0},{"s":"o5","x":3,"y":0},{"s":"o5","x":6,"y":0},
{"s":"o6","x":-6,"y":0},{"s":"o6","x":-3,"y":0},{"s":"o6","x":-2,"y":-0.04},{"s":"o6","x":-1.5,"y":-0.22},{"s":"o6","x":-1,"y":-0.3},{"s":"o6","x":-0.5,"y":0},{"s":"o6","x":0,"y":0.35},{"s":"o6","x":0.5,"y":0.5},{"s":"o6","x":1,"y":0.25},{"s":"o6","x":1.5,"y":0.06},{"s":"o6","x":2,"y":0},{"s":"o6","x":2.5,"y":0},{"s":"o6","x":3,"y":0},{"s":"o6","x":6,"y":0},
{"s":"b1","x":-6,"y":0},{"s":"b1","x":-3,"y":0.01},{"s":"b1","x":-2,"y":0.1},{"s":"b1","x":-1.5,"y":0.3},{"s":"b1","x":-1,"y":0.6},{"s":"b1","x":-0.5,"y":0.75},{"s":"b1","x":0,"y":0.5},{"s":"b1","x":0.5,"y":0},{"s":"b1","x":1,"y":-0.4},{"s":"b1","x":1.5,"y":-0.3},{"s":"b1","x":2,"y":-0.08},{"s":"b1","x":2.5,"y":-0.01},{"s":"b1","x":3,"y":0},{"s":"b1","x":6,"y":0},
{"s":"b2","x":-6,"y":0},{"s":"b2","x":-3,"y":0.005},{"s":"b2","x":-2,"y":0.05},{"s":"b2","x":-1.5,"y":0.15},{"s":"b2","x":-1,"y":0.35},{"s":"b2","x":-0.5,"y":0.55},{"s":"b2","x":0,"y":0.6},{"s":"b2","x":0.5,"y":0.25},{"s":"b2","x":1,"y":-0.2},{"s":"b2","x":1.5,"y":-0.45},{"s":"b2","x":2,"y":-0.25},{"s":"b2","x":2.5,"y":-0.05},{"s":"b2","x":3,"y":0},{"s":"b2","x":6,"y":0},
{"s":"b3","x":-6,"y":0},{"s":"b3","x":-3,"y":0.01},{"s":"b3","x":-2,"y":0.08},{"s":"b3","x":-1.5,"y":0.2},{"s":"b3","x":-1,"y":0.38},{"s":"b3","x":-0.5,"y":0.45},{"s":"b3","x":0,"y":0.35},{"s":"b3","x":0.5,"y":0.05},{"s":"b3","x":1,"y":-0.25},{"s":"b3","x":1.5,"y":-0.25},{"s":"b3","x":2,"y":-0.1},{"s":"b3","x":2.5,"y":-0.02},{"s":"b3","x":3,"y":0},{"s":"b3","x":6,"y":0},
{"s":"b4","x":-6,"y":0},{"s":"b4","x":-3,"y":0},{"s":"b4","x":-2,"y":0.03},{"s":"b4","x":-1.5,"y":0.1},{"s":"b4","x":-1,"y":0.25},{"s":"b4","x":-0.5,"y":0.5},{"s":"b4","x":0,"y":0.78},{"s":"b4","x":0.5,"y":0.4},{"s":"b4","x":1,"y":-0.3},{"s":"b4","x":1.5,"y":-0.5},{"s":"b4","x":2,"y":-0.2},{"s":"b4","x":2.5,"y":-0.03},{"s":"b4","x":3,"y":0},{"s":"b4","x":6,"y":0},
{"s":"b5","x":-6,"y":0},{"s":"b5","x":-3,"y":0.01},{"s":"b5","x":-2,"y":0.06},{"s":"b5","x":-1.5,"y":0.18},{"s":"b5","x":-1,"y":0.3},{"s":"b5","x":-0.5,"y":0.35},{"s":"b5","x":0,"y":0.3},{"s":"b5","x":0.5,"y":0.1},{"s":"b5","x":1,"y":-0.12},{"s":"b5","x":1.5,"y":-0.2},{"s":"b5","x":2,"y":-0.12},{"s":"b5","x":2.5,"y":-0.04},{"s":"b5","x":3,"y":-0.005},{"s":"b5","x":6,"y":0},
{"s":"b6","x":-6,"y":0},{"s":"b6","x":-3,"y":0.005},{"s":"b6","x":-2,"y":0.04},{"s":"b6","x":-1.5,"y":0.12},{"s":"b6","x":-1,"y":0.3},{"s":"b6","x":-0.5,"y":0.5},{"s":"b6","x":0,"y":0.55},{"s":"b6","x":0.5,"y":0.3},{"s":"b6","x":1,"y":-0.1},{"s":"b6","x":1.5,"y":-0.35},{"s":"b6","x":2,"y":-0.3},{"s":"b6","x":2.5,"y":-0.1},{"s":"b6","x":3,"y":-0.02},{"s":"b6","x":6,"y":0},
{"s":"B","x":-6,"y":0},{"s":"B","x":-4,"y":0},{"s":"B","x":-3,"y":0.005},{"s":"B","x":-2.5,"y":0.02},{"s":"B","x":-2,"y":0.06},{"s":"B","x":-1.5,"y":0.14},{"s":"B","x":-1,"y":0.27},{"s":"B","x":-0.5,"y":0.4},{"s":"B","x":-0.1,"y":0.45},{"s":"B","x":0.25,"y":0.38},{"s":"B","x":0.5,"y":0.25},{"s":"B","x":0.75,"y":0.06},{"s":"B","x":1,"y":-0.14},{"s":"B","x":1.25,"y":-0.29},{"s":"B","x":1.5,"y":-0.36},{"s":"B","x":1.75,"y":-0.33},{"s":"B","x":2,"y":-0.24},{"s":"B","x":2.5,"y":-0.08},{"s":"B","x":3,"y":-0.02},{"s":"B","x":4,"y":0},{"s":"B","x":6,"y":0},
{"s":"O","x":-6,"y":0},{"s":"O","x":-4,"y":0},{"s":"O","x":-3,"y":-0.005},{"s":"O","x":-2.5,"y":-0.02},{"s":"O","x":-2,"y":-0.08},{"s":"O","x":-1.5,"y":-0.3},{"s":"O","x":-1.25,"y":-0.42},{"s":"O","x":-1,"y":-0.46},{"s":"O","x":-0.75,"y":-0.4},{"s":"O","x":-0.5,"y":-0.2},{"s":"O","x":-0.25,"y":0.05},{"s":"O","x":0,"y":0.25},{"s":"O","x":0.25,"y":0.36},{"s":"O","x":0.5,"y":0.4},{"s":"O","x":0.75,"y":0.38},{"s":"O","x":1,"y":0.28},{"s":"O","x":1.5,"y":0.1},{"s":"O","x":2,"y":0.03},{"s":"O","x":2.5,"y":0.01},{"s":"O","x":3,"y":0},{"s":"O","x":6,"y":0}
],
"r1c2":[
{"t":"bg","c":"b","x":0.22,"x2":4.95,"y":1.77,"y2":4.51},
{"t":"av","c":"o","x":0.22,"y":3.07,"y2":1.77},{"t":"av","c":"o","x":4.95,"y":2.83,"y2":1.77},
{"t":"ln","x":0.22,"y":3.07,"x2":4.95,"y2":2.83},
{"t":"o","x":1.59,"y":2.94},{"t":"o","x":1.31,"y":2.11},{"t":"o","x":1.71,"y":2.06},{"t":"o","x":1.74,"y":1.98},{"t":"o","x":1.71,"y":1.96},{"t":"o","x":1.81,"y":2.08},{"t":"o","x":1.81,"y":2.18},{"t":"o","x":1.76,"y":2.62},{"t":"o","x":1.87,"y":2.69},{"t":"o","x":1.81,"y":2.58},{"t":"o","x":1.92,"y":2.54},{"t":"o","x":1.97,"y":2.51},{"t":"o","x":2.08,"y":2.39},{"t":"o","x":2.08,"y":2.34},{"t":"o","x":2.13,"y":2.4},{"t":"o","x":2.24,"y":2.76},{"t":"o","x":2.24,"y":2.59},{"t":"o","x":2.24,"y":2.48},{"t":"o","x":2.29,"y":3.12},{"t":"o","x":2.41,"y":3.21},{"t":"o","x":2.56,"y":2.85},{"t":"o","x":2.56,"y":2.83},{"t":"o","x":2.88,"y":3.25},{"t":"o","x":2.92,"y":3.27},{"t":"o","x":2.95,"y":3.35},{"t":"o","x":3.01,"y":3.4},
{"t":"c","x":0.54,"y":3.93},{"t":"c","x":0.62,"y":3.84},{"t":"c","x":0.83,"y":3.98},{"t":"c","x":0.67,"y":3.18},{"t":"c","x":0.69,"y":2.98},{"t":"c","x":0.89,"y":2.9},{"t":"c","x":2.41,"y":2.64},{"t":"c","x":2.37,"y":2.61},{"t":"c","x":2.74,"y":2.81},{"t":"c","x":2.78,"y":2.69},{"t":"c","x":2.81,"y":2.86},{"t":"c","x":3.04,"y":3.27},{"t":"c","x":3.21,"y":3.16},{"t":"c","x":3.35,"y":3.11},{"t":"c","x":3.37,"y":3.19},{"t":"c","x":3.4,"y":3.27},{"t":"c","x":3.15,"y":3.0},{"t":"c","x":3.6,"y":3.66},{"t":"c","x":3.71,"y":3.81},{"t":"c","x":3.75,"y":3.84},{"t":"c","x":3.73,"y":3.59},{"t":"c","x":3.88,"y":3.69},{"t":"c","x":3.92,"y":3.78},{"t":"c","x":3.96,"y":3.74},{"t":"c","x":3.99,"y":4.08},{"t":"c","x":4.11,"y":3.93},{"t":"c","x":4.21,"y":3.9},{"t":"c","x":4.6,"y":4.32},
{"t":"O","x":3.22,"y":3.52},{"t":"C","x":3.01,"y":3.02}
],
"r1c3":[
{"t":"bg","c":"o","x":-0.531,"x2":0.296,"y":-0.391,"y2":0.636},
{"t":"av","c":"b","x":-0.531,"y":-0.003,"y2":-0.391},{"t":"av","c":"b","x":0.296,"y":-0.148,"y2":-0.391},
{"t":"ln","x":-0.523,"y":-0.004,"x2":0.296,"y2":-0.148},
{"t":"o","x":-0.474,"y":0.565},{"t":"o","x":-0.468,"y":0.422},{"t":"o","x":-0.398,"y":0.492},{"t":"o","x":-0.37,"y":0.512},{"t":"o","x":-0.353,"y":0.325},{"t":"o","x":-0.301,"y":0.232},{"t":"o","x":-0.153,"y":0.132},{"t":"o","x":-0.121,"y":0.132},{"t":"o","x":-0.117,"y":0.11},{"t":"o","x":-0.05,"y":0.084},{"t":"o","x":-0.011,"y":0.095},{"t":"o","x":0.002,"y":0.161},{"t":"o","x":0.06,"y":0.077},{"t":"o","x":0.236,"y":0.21},{"t":"o","x":-0.035,"y":0.029},{"t":"o","x":-0.019,"y":0.013},{"t":"o","x":0.02,"y":0.013},{"t":"o","x":0.028,"y":0.007},{"t":"o","x":0.06,"y":0.002},{"t":"o","x":-0.043,"y":-0.004},
{"t":"c","x":-0.142,"y":0.11},{"t":"c","x":0.197,"y":0.124},{"t":"c","x":0.083,"y":0.007},{"t":"c","x":0.071,"y":-0.044},{"t":"c","x":0.099,"y":-0.053},{"t":"c","x":0.124,"y":-0.071},{"t":"c","x":0.165,"y":-0.088},{"t":"c","x":0.008,"y":-0.082},{"t":"c","x":-0.011,"y":-0.126},{"t":"c","x":0.033,"y":-0.141},{"t":"c","x":-0.068,"y":-0.132},{"t":"c","x":0.094,"y":-0.185},{"t":"c","x":0.143,"y":-0.143},{"t":"c","x":0.191,"y":-0.177},{"t":"c","x":-0.172,"y":-0.181},{"t":"c","x":-0.058,"y":-0.196},{"t":"c","x":-0.043,"y":-0.208},{"t":"c","x":-0.002,"y":-0.252},{"t":"c","x":0.049,"y":-0.254},{"t":"c","x":0.11,"y":-0.258},{"t":"c","x":0.12,"y":-0.287},{"t":"c","x":-0.162,"y":-0.302},{"t":"c","x":-0.074,"y":-0.298},{"t":"c","x":-0.061,"y":-0.309},{"t":"c","x":-0.016,"y":-0.291},{"t":"c","x":0.016,"y":-0.313},{"t":"c","x":0.052,"y":-0.291},{"t":"c","x":0.099,"y":-0.329},{"t":"c","x":-0.008,"y":-0.263},
{"t":"O","x":-0.027,"y":-0.022},{"t":"C","x":0.08,"y":-0.104}
],
"r1c4":[
{"t":"bg","c":"b","x":-0.159,"x2":-0.04,"y":-0.016,"y2":0.531},
{"t":"ah","c":"o","y":-0.016,"x":-0.159,"x2":-0.0738},{"t":"ah","c":"o","y":0.531,"x":-0.159,"x2":-0.144},
{"t":"ln","x":-0.144,"y":0.531,"x2":-0.0738,"y2":-0.016},
{"t":"o","x":-0.145,"y":0.476},{"t":"o","x":-0.145,"y":0.463},{"t":"o","x":-0.144,"y":0.453},{"t":"o","x":-0.141,"y":0.453},{"t":"o","x":-0.139,"y":0.402},{"t":"o","x":-0.14,"y":0.387},{"t":"o","x":-0.131,"y":0.294},{"t":"o","x":-0.13,"y":0.285},{"t":"o","x":-0.126,"y":0.292},{"t":"o","x":-0.113,"y":0.265},{"t":"o","x":-0.113,"y":0.238},{"t":"o","x":-0.111,"y":0.209},{"t":"o","x":-0.11,"y":0.197},{"t":"o","x":-0.106,"y":0.179},{"t":"o","x":-0.105,"y":0.17},{"t":"o","x":-0.104,"y":0.16},{"t":"o","x":-0.097,"y":0.165},{"t":"o","x":-0.096,"y":0.17},{"t":"o","x":-0.094,"y":0.144},{"t":"o","x":-0.093,"y":0.138},{"t":"o","x":-0.092,"y":0.133},{"t":"o","x":-0.094,"y":0.124},{"t":"o","x":-0.09,"y":0.109},{"t":"o","x":-0.088,"y":0.1},{"t":"o","x":-0.085,"y":0.158},{"t":"o","x":-0.072,"y":0.076},
{"t":"c","x":-0.133,"y":0.379},{"t":"c","x":-0.132,"y":0.346},{"t":"c","x":-0.125,"y":0.379},{"t":"c","x":-0.123,"y":0.353},{"t":"c","x":-0.127,"y":0.314},{"t":"c","x":-0.12,"y":0.32},{"t":"c","x":-0.0974,"y":0.182},{"t":"c","x":-0.098,"y":0.147},{"t":"c","x":-0.092,"y":0.147},{"t":"c","x":-0.087,"y":0.158},{"t":"c","x":-0.087,"y":0.118},{"t":"c","x":-0.085,"y":0.097},{"t":"c","x":-0.08,"y":0.124},{"t":"c","x":-0.078,"y":0.097},{"t":"c","x":-0.074,"y":0.074},{"t":"c","x":-0.071,"y":0.097},{"t":"c","x":-0.065,"y":0.094},{"t":"c","x":-0.064,"y":0.062},{"t":"c","x":-0.06,"y":0.062},{"t":"c","x":-0.059,"y":0.086},{"t":"c","x":-0.053,"y":0.06},{"t":"c","x":-0.054,"y":0.039},{"t":"c","x":-0.05,"y":0.027},{"t":"c","x":-0.049,"y":0.046},{"t":"c","x":-0.051,"y":0.021},{"t":"c","x":-0.066,"y":0.103},
{"t":"O","x":-0.151,"y":0.493},{"t":"C","x":-0.088,"y":0.133}
],
"r2c2":[
{"t":"bg","c":"b","x":1.69,"x2":3.47,"y":2.128,"y2":4.106},
{"t":"av","c":"o","x":1.69,"y":2.593,"y2":2.128},{"t":"av","c":"o","x":3.47,"y":3.713,"y2":2.128},
{"t":"ln","x":1.69,"y":2.593,"x2":3.47,"y2":3.713},
{"t":"oc","x":1.873,"y":3.776},{"t":"oc","x":2.14,"y":3.628},{"t":"oc","x":1.815,"y":2.88},{"t":"oc","x":1.873,"y":2.563},{"t":"oc","x":1.873,"y":2.416},{"t":"oc","x":1.812,"y":2.268},{"t":"oc","x":1.976,"y":3.168},{"t":"oc","x":2.027,"y":3.168},{"t":"oc","x":2.089,"y":3.269},{"t":"oc","x":2.199,"y":3.075},{"t":"oc","x":2.147,"y":2.817},{"t":"oc","x":2.147,"y":2.745},{"t":"oc","x":2.192,"y":2.872},{"t":"oc","x":2.199,"y":2.83},{"t":"oc","x":2.199,"y":2.585},{"t":"oc","x":2.36,"y":3.294},{"t":"oc","x":2.36,"y":3.02},{"t":"oc","x":2.36,"y":2.902},{"t":"oc","x":2.466,"y":2.957},{"t":"oc","x":2.524,"y":2.957},{"t":"oc","x":2.524,"y":3.556},{"t":"oc","x":2.575,"y":3.092},{"t":"oc","x":2.634,"y":3.337},{"t":"oc","x":2.74,"y":3.379},{"t":"oc","x":2.908,"y":3.81},{"t":"oc","x":3.065,"y":3.185},{"t":"oc","x":3.233,"y":3.966},{"t":"oc","x":3.233,"y":3.675},{"t":"oc","x":3.339,"y":3.599},
{"t":"OC","x":2.466,"y":3.442}
],
"r2c3":[
{"t":"bg","c":"b","x":-0.549,"x2":0.549,"y":-0.105,"y2":0.615},
{"t":"av","c":"o","x":-0.549,"y":0.615,"y2":-0.105},{"t":"av","c":"o","x":0,"y":0.615,"y2":-0.105},
{"t":"ln","x":0,"y":-0.105,"x2":0,"y2":0.615},
{"t":"o","x":-0.469,"y":0.565},{"t":"o","x":-0.368,"y":0.515},{"t":"o","x":-0.473,"y":0.434},{"t":"o","x":-0.363,"y":0.434},{"t":"o","x":-0.41,"y":0.415},{"t":"o","x":-0.347,"y":0.405},{"t":"o","x":-0.347,"y":0.372},{"t":"o","x":-0.452,"y":0.342},{"t":"o","x":-0.343,"y":0.342},{"t":"o","x":-0.473,"y":0.32},{"t":"o","x":-0.431,"y":0.311},{"t":"o","x":-0.435,"y":0.308},{"t":"o","x":-0.3,"y":0.277},{"t":"o","x":-0.258,"y":0.257},{"t":"o","x":-0.194,"y":0.226},{"t":"o","x":-0.325,"y":0.218},{"t":"o","x":-0.275,"y":0.182},{"t":"o","x":-0.226,"y":0.131},{"t":"o","x":-0.241,"y":0.089},{"t":"o","x":-0.146,"y":0.085},{"t":"o","x":-0.127,"y":0.072},{"t":"o","x":-0.163,"y":0.051},{"t":"o","x":-0.194,"y":0.046},{"t":"o","x":-0.131,"y":0.034},{"t":"o","x":-0.254,"y":0.034},{"t":"o","x":-0.332,"y":0.02},{"t":"o","x":-0.08,"y":-0.015},{"t":"o","x":-0.046,"y":-0.038},{"t":"o","x":-0.11,"y":-0.054},{"t":"o","x":0.042,"y":-0.031},
{"t":"c","x":0.471,"y":0.565},{"t":"c","x":0.361,"y":0.515},{"t":"c","x":0.366,"y":0.434},{"t":"c","x":0.414,"y":0.412},{"t":"c","x":0.471,"y":0.431},{"t":"c","x":0.34,"y":0.403},{"t":"c","x":0.344,"y":0.369},{"t":"c","x":0.34,"y":0.342},{"t":"c","x":0.45,"y":0.335},{"t":"c","x":0.461,"y":0.326},{"t":"c","x":0.431,"y":0.308},{"t":"c","x":0.475,"y":0.32},{"t":"c","x":0.298,"y":0.28},{"t":"c","x":0.256,"y":0.257},{"t":"c","x":0.186,"y":0.231},{"t":"c","x":0.325,"y":0.218},{"t":"c","x":0.228,"y":0.131},{"t":"c","x":0.249,"y":0.089},{"t":"c","x":0.139,"y":0.085},{"t":"c","x":0.123,"y":0.072},{"t":"c","x":0.18,"y":0.054},{"t":"c","x":0.137,"y":0.049},{"t":"c","x":0.123,"y":0.034},{"t":"c","x":0.249,"y":0.034},{"t":"c","x":0.334,"y":0.02},{"t":"c","x":0.08,"y":-0.015},{"t":"c","x":0.042,"y":-0.043},{"t":"c","x":0.112,"y":-0.054},{"t":"c","x":-0.046,"y":-0.043},
{"t":"O","x":-0.311,"y":0.185},{"t":"C","x":0.306,"y":0.185}
],
"r2c4":[
{"t":"bg","c":"b","x":-0.311,"x2":-0.16,"y":-0.0209,"y2":0.0209},
{"t":"av","c":"o","x":-0.311,"y":0.0209,"y2":0},{"t":"av","c":"o","x":-0.16,"y":0.0209,"y2":0},
{"t":"ln","x":-0.311,"y":0,"x2":-0.16,"y2":0},
{"t":"o","x":-0.3004,"y":0.01795},{"t":"o","x":-0.2952,"y":0.01536},{"t":"o","x":-0.2929,"y":0.0133},{"t":"o","x":-0.2801,"y":0.01509},{"t":"o","x":-0.2667,"y":0.00875},{"t":"o","x":-0.2598,"y":0.00786},{"t":"o","x":-0.2496,"y":0.01063},{"t":"o","x":-0.2496,"y":0.00964},{"t":"o","x":-0.2417,"y":0.00679},{"t":"o","x":-0.2322,"y":0.00991},{"t":"o","x":-0.2319,"y":0.00509},{"t":"o","x":-0.2269,"y":0.00527},{"t":"o","x":-0.2263,"y":0.00634},{"t":"o","x":-0.222,"y":0.00929},{"t":"o","x":-0.2115,"y":0.0117},{"t":"o","x":-0.2104,"y":0.01063},{"t":"o","x":-0.2092,"y":0.00964},{"t":"o","x":-0.2089,"y":0.0158},{"t":"o","x":-0.2121,"y":0.0075},{"t":"o","x":-0.208,"y":0.0075},{"t":"o","x":-0.2072,"y":0.00589},{"t":"o","x":-0.2051,"y":0.00634},{"t":"o","x":-0.2022,"y":0.00634},{"t":"o","x":-0.2008,"y":0.01063},{"t":"o","x":-0.2034,"y":0.00286},{"t":"o","x":-0.1854,"y":0.00732},{"t":"o","x":-0.1819,"y":0.00554},{"t":"o","x":-0.1819,"y":0.00375},{"t":"o","x":-0.1726,"y":0.00375},{"t":"o","x":-0.1709,"y":0.00393},
{"t":"c","x":-0.3004,"y":-0.0179},{"t":"c","x":-0.2952,"y":-0.0153},{"t":"c","x":-0.2929,"y":-0.0132},{"t":"c","x":-0.2801,"y":-0.015},{"t":"c","x":-0.2667,"y":-0.0088},{"t":"c","x":-0.2598,"y":-0.0079},{"t":"c","x":-0.2496,"y":-0.0099},{"t":"c","x":-0.2496,"y":-0.0106},{"t":"c","x":-0.2417,"y":-0.0065},{"t":"c","x":-0.2322,"y":-0.0099},{"t":"c","x":-0.2319,"y":-0.0048},{"t":"c","x":-0.2269,"y":-0.0053},{"t":"c","x":-0.2263,"y":-0.0061},{"t":"c","x":-0.222,"y":-0.0093},{"t":"c","x":-0.2115,"y":-0.0115},{"t":"c","x":-0.2104,"y":-0.0106},{"t":"c","x":-0.2092,"y":-0.0097},{"t":"c","x":-0.2089,"y":-0.0157},{"t":"c","x":-0.2121,"y":-0.0075},{"t":"c","x":-0.208,"y":-0.0063},{"t":"c","x":-0.2057,"y":-0.0061},{"t":"c","x":-0.2034,"y":-0.003},{"t":"c","x":-0.2008,"y":-0.0106},{"t":"c","x":-0.1854,"y":-0.0074},{"t":"c","x":-0.1819,"y":-0.0054},{"t":"c","x":-0.1819,"y":-0.0037},{"t":"c","x":-0.1726,"y":-0.0035},{"t":"c","x":-0.1709,"y":-0.0039},
{"t":"O","x":-0.24,"y":0.01179},{"t":"C","x":-0.24,"y":-0.012}
],
"r3c2":[
{"t":"bg","c":"b","x":0.3,"x2":3.81,"y":1.66,"y2":4.78},
{"t":"av","c":"o","x":0.3,"y":3.457,"y2":1.66},{"t":"av","c":"o","x":3.81,"y":2.347,"y2":1.66},
{"t":"ln","x":0.3,"y":3.457,"x2":3.81,"y2":2.347},
{"t":"o","x":0.548,"y":2.667},{"t":"o","x":0.869,"y":2.513},{"t":"o","x":1.033,"y":2.3},{"t":"o","x":1.151,"y":2.093},{"t":"o","x":1.525,"y":2.313},{"t":"o","x":1.577,"y":2.213},{"t":"o","x":1.577,"y":2.147},{"t":"o","x":1.643,"y":2.127},{"t":"o","x":1.577,"y":1.88},{"t":"o","x":1.656,"y":1.913},{"t":"o","x":1.741,"y":1.98},{"t":"o","x":1.852,"y":2.047},{"t":"o","x":1.97,"y":2.067},{"t":"o","x":2.03,"y":2.093},{"t":"o","x":2.016,"y":2.047},{"t":"o","x":1.623,"y":2.613},{"t":"o","x":1.689,"y":2.667},{"t":"o","x":1.702,"y":2.36},{"t":"o","x":1.689,"y":2.347},{"t":"o","x":1.807,"y":2.513},{"t":"o","x":1.852,"y":2.58},{"t":"o","x":1.918,"y":2.5},{"t":"o","x":1.905,"y":2.327},{"t":"o","x":1.97,"y":2.7},{"t":"o","x":2.016,"y":2.327},{"t":"o","x":2.128,"y":2.347},{"t":"o","x":2.128,"y":2.267},{"t":"o","x":2.128,"y":2.213},{"t":"o","x":2.246,"y":2.347},{"t":"o","x":2.233,"y":2.247},{"t":"o","x":2.18,"y":2.613},{"t":"o","x":2.344,"y":2.413},
{"t":"c","x":2.889,"y":4.567},{"t":"c","x":2.836,"y":4.26},{"t":"c","x":2.659,"y":4.28},{"t":"c","x":2.246,"y":4.167},{"t":"c","x":2.456,"y":4.1},{"t":"c","x":1.918,"y":4.1},{"t":"c","x":1.951,"y":4.047},{"t":"c","x":2.397,"y":3.833},{"t":"c","x":2.902,"y":3.847},{"t":"c","x":2.718,"y":3.933},{"t":"c","x":2.836,"y":3.647},{"t":"c","x":2.856,"y":3.58},{"t":"c","x":2.659,"y":3.58},{"t":"c","x":2.292,"y":3.58},{"t":"c","x":2.18,"y":3.513},{"t":"c","x":2.397,"y":3.513},{"t":"c","x":3.066,"y":3.513},{"t":"c","x":2.443,"y":3.38},{"t":"c","x":2.607,"y":3.38},{"t":"c","x":2.803,"y":3.333},{"t":"c","x":2.528,"y":3.313},{"t":"c","x":1.852,"y":3.4},{"t":"c","x":2.18,"y":3.213},{"t":"c","x":2.213,"y":3.16},{"t":"c","x":2.443,"y":3.247},{"t":"c","x":2.456,"y":3.027},{"t":"c","x":1.951,"y":3.093},{"t":"c","x":2.016,"y":2.88},{"t":"c","x":2.082,"y":2.78},{"t":"c","x":1.97,"y":2.78},{"t":"c","x":1.82,"y":2.427},
{"t":"O","x":2.344,"y":2.747},{"t":"C","x":3.557,"y":4.0}
],
"r3c3":[
{"t":"bg","c":"b","x":-0.234,"x2":0.768,"y":-0.124,"y2":0.768},
{"t":"ah","c":"o","y":-0.124,"x":-0.234,"x2":0.037},{"t":"ah","c":"o","y":0.768,"x":-0.234,"x2":0.421},
{"t":"ln","x":0.037,"y":-0.124,"x2":0.421,"y2":0.768},
{"t":"o","x":-0.16,"y":0.04},{"t":"o","x":-0.15,"y":0.06},{"t":"o","x":-0.14,"y":0.08},{"t":"o","x":-0.13,"y":0.07},{"t":"o","x":-0.12,"y":0.055},{"t":"o","x":-0.11,"y":0.075},{"t":"o","x":-0.1,"y":0.06},{"t":"o","x":-0.095,"y":0.04},{"t":"o","x":-0.085,"y":0.03},{"t":"o","x":-0.08,"y":0.05},{"t":"o","x":-0.07,"y":0.02},{"t":"o","x":-0.065,"y":0.0},{"t":"o","x":-0.06,"y":-0.02},{"t":"o","x":-0.055,"y":-0.04},{"t":"o","x":-0.07,"y":-0.05},{"t":"o","x":-0.085,"y":-0.06},{"t":"o","x":-0.1,"y":-0.055},{"t":"o","x":-0.12,"y":-0.05},{"t":"o","x":-0.14,"y":-0.04},{"t":"o","x":-0.155,"y":-0.02},{"t":"o","x":-0.165,"y":0.0},{"t":"o","x":-0.16,"y":0.02},{"t":"o","x":-0.135,"y":0.03},{"t":"o","x":-0.11,"y":0.02},{"t":"o","x":-0.09,"y":0.01},{"t":"o","x":-0.075,"y":-0.03},{"t":"o","x":-0.13,"y":-0.01},{"t":"o","x":-0.15,"y":0.01},{"t":"o","x":-0.05,"y":-0.05},{"t":"o","x":-0.045,"y":-0.03},
{"t":"c","x":0.697,"y":0.707},{"t":"c","x":0.59,"y":0.615},{"t":"c","x":0.618,"y":0.486},{"t":"c","x":0.631,"y":0.415},{"t":"c","x":0.496,"y":0.507},{"t":"c","x":0.491,"y":0.415},{"t":"c","x":0.485,"y":0.354},{"t":"c","x":0.384,"y":0.362},{"t":"c","x":0.434,"y":0.324},{"t":"c","x":0.444,"y":0.324},{"t":"c","x":0.431,"y":0.267},{"t":"c","x":0.462,"y":0.244},{"t":"c","x":0.5,"y":0.202},{"t":"c","x":0.504,"y":0.149},{"t":"c","x":0.294,"y":0.248},{"t":"c","x":0.309,"y":0.202},{"t":"c","x":0.365,"y":0.19},{"t":"c","x":0.401,"y":0.19},{"t":"c","x":0.397,"y":0.158},{"t":"c","x":0.281,"y":0.158},{"t":"c","x":0.204,"y":0.133},{"t":"c","x":0.438,"y":0.067},{"t":"c","x":0.234,"y":0.082},{"t":"c","x":0.266,"y":0.082},{"t":"c","x":0.225,"y":0.063},{"t":"c","x":0.275,"y":0.057},{"t":"c","x":0.322,"y":0.057},{"t":"c","x":0.346,"y":0.091},{"t":"c","x":0.337,"y":0.067},{"t":"c","x":0.107,"y":-0.008},
{"t":"O","x":-0.124,"y":-0.019},{"t":"C","x":0.097,"y":-0.061}
],
"r3c4":[
{"t":"bg","c":"b","x":-0.0212,"x2":0.0004,"y":-0.02,"y2":0.84},
{"t":"ah","c":"o","y":-0.02,"x":-0.00776,"x2":0.0004},{"t":"ah","c":"o","y":0.84,"x":-0.003,"x2":0.0004},
{"t":"ln","x":-0.003,"y":0.84,"x2":-0.00776,"y2":-0.02},
{"t":"c","x":-0.0175,"y":0.51},{"t":"c","x":-0.0165,"y":0.46},{"t":"c","x":-0.0158,"y":0.41},{"t":"c","x":-0.0185,"y":0.4},{"t":"c","x":-0.015,"y":0.47},{"t":"c","x":-0.014,"y":0.53},{"t":"c","x":-0.0135,"y":0.45},{"t":"c","x":-0.0128,"y":0.5},{"t":"c","x":-0.012,"y":0.43},{"t":"c","x":-0.0115,"y":0.38},{"t":"c","x":-0.011,"y":0.46},{"t":"c","x":-0.0105,"y":0.35},{"t":"c","x":-0.01,"y":0.41},{"t":"c","x":-0.0098,"y":0.3},{"t":"c","x":-0.0095,"y":0.46},{"t":"c","x":-0.009,"y":0.33},{"t":"c","x":-0.0087,"y":0.4},{"t":"c","x":-0.0082,"y":0.27},{"t":"c","x":-0.0078,"y":0.36},{"t":"c","x":-0.0075,"y":0.2},{"t":"c","x":-0.007,"y":0.17},{"t":"c","x":-0.0068,"y":0.28},{"t":"c","x":-0.006,"y":0.25},{"t":"c","x":-0.0055,"y":0.3},{"t":"c","x":-0.0062,"y":0.36},{"t":"c","x":-0.013,"y":0.38},{"t":"c","x":-0.0145,"y":0.32},{"t":"c","x":-0.0165,"y":0.27},{"t":"c","x":-0.012,"y":0.31},{"t":"c","x":-0.0105,"y":0.26},{"t":"c","x":-0.009,"y":0.22},{"t":"c","x":-0.0045,"y":0.4},
{"t":"o","x":-0.004,"y":0.19},{"t":"o","x":-0.0035,"y":0.15},{"t":"o","x":-0.003,"y":0.21},{"t":"o","x":-0.0028,"y":0.12},{"t":"o","x":-0.0025,"y":0.17},{"t":"o","x":-0.0022,"y":0.1},{"t":"o","x":-0.002,"y":0.14},{"t":"o","x":-0.0018,"y":0.07},{"t":"o","x":-0.0016,"y":0.11},{"t":"o","x":-0.0015,"y":0.05},{"t":"o","x":-0.0013,"y":0.09},{"t":"o","x":-0.0012,"y":0.04},{"t":"o","x":-0.001,"y":0.07},{"t":"o","x":-0.001,"y":0.12},{"t":"o","x":-0.0008,"y":0.03},{"t":"o","x":-0.0014,"y":0.15},{"t":"o","x":-0.0019,"y":0.18},{"t":"o","x":-0.0024,"y":0.24},{"t":"o","x":-0.003,"y":0.08},{"t":"o","x":-0.0027,"y":0.05},{"t":"o","x":-0.0033,"y":0.27},{"t":"o","x":-0.0011,"y":0.02},{"t":"o","x":-0.0017,"y":0.03},{"t":"o","x":-0.0021,"y":0.06},{"t":"o","x":-0.0009,"y":0.09},{"t":"o","x":-0.0006,"y":0.05},
{"t":"O","x":-0.00364,"y":0.218},{"t":"C","x":-0.02,"y":0.79}
],
"r4c2":[
{"t":"bg","c":"b","x":0.24,"x2":3.82,"y":1.53,"y2":3.97},
{"t":"av","c":"o","x":0.24,"y":2.76,"y2":1.53},{"t":"av","c":"o","x":3.82,"y":2.61,"y2":1.53},
{"t":"ln","x":0.24,"y":2.76,"x2":3.82,"y2":2.61},
{"t":"o","x":0.2,"y":1.84},{"t":"o","x":0.46,"y":2.32},{"t":"o","x":1.6,"y":1.68},{"t":"o","x":1.7,"y":1.78},{"t":"o","x":1.87,"y":2.0},{"t":"o","x":1.97,"y":2.13},{"t":"o","x":2.09,"y":2.22},{"t":"o","x":2.05,"y":2.37},{"t":"o","x":2.15,"y":2.45},{"t":"o","x":2.27,"y":2.48},{"t":"o","x":2.35,"y":2.38},{"t":"o","x":1.81,"y":2.32},{"t":"o","x":1.5,"y":2.4},{"t":"o","x":1.2,"y":2.45},{"t":"o","x":1.3,"y":2.45},{"t":"o","x":1.6,"y":2.32},{"t":"o","x":1.7,"y":2.2},{"t":"o","x":2.0,"y":1.94},{"t":"o","x":1.77,"y":2.1},{"t":"o","x":1.9,"y":2.22},{"t":"o","x":2.5,"y":2.25},{"t":"o","x":2.45,"y":2.52},{"t":"o","x":1.95,"y":2.45},{"t":"o","x":2.1,"y":1.9},{"t":"o","x":1.0,"y":2.4},{"t":"o","x":1.4,"y":2.1},
{"t":"c","x":1.52,"y":3.68},{"t":"c","x":0.32,"y":3.33},{"t":"c","x":2.63,"y":3.82},{"t":"c","x":2.71,"y":3.79},{"t":"c","x":3.49,"y":3.55},{"t":"c","x":2.09,"y":3.28},{"t":"c","x":1.97,"y":3.44},{"t":"c","x":2.71,"y":3.28},{"t":"c","x":2.98,"y":3.16},{"t":"c","x":3.19,"y":3.09},{"t":"c","x":2.26,"y":3.12},{"t":"c","x":2.46,"y":3.04},{"t":"c","x":2.75,"y":3.0},{"t":"c","x":2.81,"y":2.81},{"t":"c","x":2.98,"y":2.76},{"t":"c","x":0.53,"y":2.6},{"t":"c","x":0.61,"y":2.68},{"t":"c","x":2.05,"y":2.85},{"t":"c","x":2.32,"y":2.68},{"t":"c","x":2.59,"y":2.89},{"t":"c","x":1.85,"y":2.84},{"t":"c","x":3.06,"y":2.61},
{"t":"O","x":3.16,"y":2.63},{"t":"C","x":2.9,"y":2.61}
],
"r4c3":[
{"t":"bg","c":"b","x":-0.53,"x2":0.47,"y":-0.27,"y2":0.58},
{"t":"ah","c":"o","y":-0.27,"x":0.0,"x2":0.47},{"t":"ah","c":"o","y":0.58,"x":0.04,"x2":0.47},
{"t":"ln","x":0.04,"y":0.58,"x2":0.0,"y2":-0.27},
{"t":"c","x":-0.51,"y":0.52},{"t":"c","x":-0.49,"y":0.44},{"t":"c","x":-0.51,"y":0.3},{"t":"c","x":-0.47,"y":0.27},{"t":"c","x":-0.44,"y":0.28},{"t":"c","x":-0.34,"y":0.19},{"t":"c","x":-0.31,"y":0.14},{"t":"c","x":-0.23,"y":0.16},{"t":"c","x":-0.21,"y":0.07},{"t":"c","x":-0.21,"y":0.04},{"t":"c","x":-0.15,"y":0.02},{"t":"c","x":-0.13,"y":-0.03},{"t":"c","x":-0.2,"y":-0.1},{"t":"c","x":-0.16,"y":-0.08},{"t":"c","x":-0.1,"y":-0.13},{"t":"c","x":-0.07,"y":-0.15},{"t":"c","x":-0.03,"y":-0.1},{"t":"c","x":-0.26,"y":0.12},{"t":"c","x":-0.39,"y":0.23},
{"t":"o","x":0.44,"y":0.47},{"t":"o","x":0.355,"y":0.34},{"t":"o","x":0.32,"y":0.27},{"t":"o","x":0.29,"y":0.23},{"t":"o","x":0.26,"y":0.16},{"t":"o","x":0.24,"y":0.1},{"t":"o","x":0.2,"y":0.06},{"t":"o","x":0.19,"y":0.02},{"t":"o","x":0.155,"y":0.05},{"t":"o","x":0.14,"y":-0.01},{"t":"o","x":0.115,"y":-0.02},{"t":"o","x":0.087,"y":-0.06},{"t":"o","x":0.06,"y":-0.09},{"t":"o","x":0.034,"y":-0.13},{"t":"o","x":0.015,"y":-0.15},{"t":"o","x":0.08,"y":-0.14},{"t":"o","x":0.17,"y":-0.06},{"t":"o","x":0.22,"y":-0.03},
{"t":"O","x":0.094,"y":-0.2},{"t":"C","x":-0.06,"y":0.02}
],
"r4c4":[
{"t":"bg","c":"b","x":-0.58,"x2":0.57,"y":-0.0043,"y2":0.0077},
{"t":"ah","c":"o","y":-0.0043,"x":-0.58,"x2":0.015},{"t":"ah","c":"o","y":0.0077,"x":-0.58,"x2":-0.04},
{"t":"ln","x":-0.04,"y":0.0077,"x2":0.015,"y2":-0.0043},
{"t":"o","x":-0.507,"y":0.0071},{"t":"o","x":-0.507,"y":0.0058},{"t":"o","x":-0.507,"y":0.0052},{"t":"o","x":-0.507,"y":0.0047},{"t":"o","x":-0.507,"y":0.0042},{"t":"o","x":-0.507,"y":0.0037},{"t":"o","x":-0.507,"y":0.003},{"t":"o","x":-0.507,"y":0.0024},{"t":"o","x":-0.507,"y":0.0018},{"t":"o","x":-0.507,"y":0.0012},{"t":"o","x":-0.507,"y":0.0006},{"t":"o","x":-0.507,"y":0.0001},{"t":"o","x":-0.507,"y":-0.0004},{"t":"o","x":-0.507,"y":-0.0009},{"t":"o","x":-0.507,"y":-0.0013},{"t":"o","x":-0.507,"y":-0.002},{"t":"o","x":-0.507,"y":-0.0025},{"t":"o","x":-0.507,"y":-0.003},{"t":"o","x":-0.507,"y":-0.0036},
{"t":"c","x":0.5,"y":0.0052},{"t":"c","x":0.5,"y":0.0046},{"t":"c","x":0.5,"y":0.0041},{"t":"c","x":0.5,"y":0.0037},{"t":"c","x":0.5,"y":0.0033},{"t":"c","x":0.5,"y":0.0029},{"t":"c","x":0.5,"y":0.0025},{"t":"c","x":0.5,"y":0.002},{"t":"c","x":0.5,"y":0.0015},{"t":"c","x":0.5,"y":0.001},{"t":"c","x":0.5,"y":0.0005},{"t":"c","x":0.5,"y":0.0001},{"t":"c","x":0.5,"y":-0.0004},
{"t":"O","x":-0.507,"y":-0.0017},{"t":"C","x":0.5,"y":0.0066}
]
},
"bounds":"flush",
"columns":4,
"spacing":{"row":56,"column":57},
"concat":[
{"width":193,"height":171,"data":{"name":"r1c1"},
"encoding":{"x":{"field":"x","type":"quantitative","scale":{"domain":[-6.6,6.6],"nice":false,"zero":false},"axis":{"title":"Δv","values":[-6,0,6],"format":"d"}},"y":{"field":"y","type":"quantitative","scale":{"domain":[-0.036,0.806],"nice":false,"zero":false},"axis":{"title":"Normalized flux","titlePadding":8,"values":[0,0.2,0.4,0.6,0.8],"format":".1f"}},"detail":{"field":"s"}},
"layer":[
{"transform":[{"filter":"datum.s=='z'"}],"mark":{"type":"line","color":"#c8c8c8","strokeWidth":1}},
{"transform":[{"filter":"substring(datum.s,0,1)=='b'"}],"mark":{"type":"line","color":"#7d91a8","strokeWidth":0.8,"opacity":0.35,"interpolate":"monotone"}},
{"transform":[{"filter":"substring(datum.s,0,1)=='o'"}],"mark":{"type":"line","color":"#f09a55","strokeWidth":0.8,"opacity":0.35,"interpolate":"monotone"}},
{"transform":[{"filter":"datum.s=='B'"}],"mark":{"type":"line","color":"#1d3c5e","strokeWidth":3,"interpolate":"monotone"}},
{"transform":[{"filter":"datum.s=='O'"}],"mark":{"type":"line","color":"#ee8a30","strokeWidth":3,"interpolate":"monotone"}}]},
{"width":193,"height":171,"data":{"name":"r1c2"},
"encoding":{"x":{"field":"x","type":"quantitative","scale":{"domain":[-0.04,5.19],"nice":false,"zero":false},"axis":{"title":"FWHM","values":[0,1,2,3,4,5],"format":"d"}},"y":{"field":"y","type":"quantitative","scale":{"domain":[1.63,4.65],"nice":false,"zero":false},"axis":{"title":"W₈₀","values":[2,3,4],"format":"d"}}},
"layer":[
{"transform":[{"filter":"datum.t=='bg'"}],"mark":{"type":"rect"},"encoding":{"x2":{"field":"x2"},"y2":{"field":"y2"},"fill":{"field":"c","type":"nominal","scale":{"domain":["b","o"],"range":["#edf2f9","#fcf3ea"]},"legend":null}}},
{"transform":[{"filter":"datum.t=='av'"}],"mark":{"type":"area","orient":"vertical"},"encoding":{"y2":{"field":"y2"},"fill":{"field":"c","type":"nominal","scale":{"domain":["b","o"],"range":["#edf2f9","#fcf3ea"]},"legend":null}}},
{"transform":[{"filter":"datum.t=='ah'"}],"mark":{"type":"area","orient":"horizontal"},"encoding":{"x2":{"field":"x2"},"fill":{"field":"c","type":"nominal","scale":{"domain":["b","o"],"range":["#edf2f9","#fcf3ea"]},"legend":null}}},
{"transform":[{"filter":"datum.t=='ln'"}],"mark":{"type":"rule","strokeDash":[3,3],"color":"#333333","strokeWidth":1},"encoding":{"x2":{"field":"x2"},"y2":{"field":"y2"}}},
{"transform":[{"filter":"indexof(datum.t,'o')>=0"}],"mark":{"type":"point","shape":"circle","filled":true,"size":28,"fill":"#ec984c","opacity":1,"fillOpacity":0.9,"stroke":"#333333","strokeWidth":0.7}},
{"transform":[{"filter":"indexof(datum.t,'c')>=0"}],"mark":{"type":"point","shape":"M-1,0L1,0M0,-1L0,1","filled":false,"size":55,"opacity":1,"stroke":"#37567c","strokeOpacity":0.75,"strokeWidth":1.2}},
{"transform":[{"filter":"indexof(datum.t,'O')>=0"}],"mark":{"type":"point","shape":"circle","filled":true,"size":110,"fill":"#ee8a30","opacity":1,"stroke":"#111111","strokeWidth":1.8}},
{"transform":[{"filter":"indexof(datum.t,'C')>=0"}],"mark":{"type":"point","shape":"M-1,0L1,0M0,-1L0,1","filled":false,"size":500,"opacity":1,"stroke":"#1f3b60","strokeWidth":3}}]},
{"width":193,"height":171,"data":{"name":"r1c3"},
"encoding":{"x":{"field":"x","type":"quantitative","scale":{"domain":[-0.572,0.337],"nice":false,"zero":false},"axis":{"title":"h̃₃","values":[-0.4,-0.2,0,0.2],"format":".1f"}},"y":{"field":"y","type":"quantitative","scale":{"domain":[-0.442,0.687],"nice":false,"zero":false},"axis":{"title":"h̃₄","values":[-0.25,0,0.25,0.5],"format":".2f"}}},
"layer":[
{"transform":[{"filter":"datum.t=='bg'"}],"mark":{"type":"rect"},"encoding":{"x2":{"field":"x2"},"y2":{"field":"y2"},"fill":{"field":"c","type":"nominal","scale":{"domain":["b","o"],"range":["#edf2f9","#fcf3ea"]},"legend":null}}},
{"transform":[{"filter":"datum.t=='av'"}],"mark":{"type":"area","orient":"vertical"},"encoding":{"y2":{"field":"y2"},"fill":{"field":"c","type":"nominal","scale":{"domain":["b","o"],"range":["#edf2f9","#fcf3ea"]},"legend":null}}},
{"transform":[{"filter":"datum.t=='ah'"}],"mark":{"type":"area","orient":"horizontal"},"encoding":{"x2":{"field":"x2"},"fill":{"field":"c","type":"nominal","scale":{"domain":["b","o"],"range":["#edf2f9","#fcf3ea"]},"legend":null}}},
{"transform":[{"filter":"datum.t=='ln'"}],"mark":{"type":"rule","strokeDash":[3,3],"color":"#333333","strokeWidth":1},"encoding":{"x2":{"field":"x2"},"y2":{"field":"y2"}}},
{"transform":[{"filter":"indexof(datum.t,'o')>=0"}],"mark":{"type":"point","shape":"circle","filled":true,"size":28,"fill":"#ec984c","opacity":1,"fillOpacity":0.9,"stroke":"#333333","strokeWidth":0.7}},
{"transform":[{"filter":"indexof(datum.t,'c')>=0"}],"mark":{"type":"point","shape":"M-1,0L1,0M0,-1L0,1","filled":false,"size":55,"opacity":1,"stroke":"#37567c","strokeOpacity":0.75,"strokeWidth":1.2}},
{"transform":[{"filter":"indexof(datum.t,'O')>=0"}],"mark":{"type":"point","shape":"circle","filled":true,"size":110,"fill":"#ee8a30","opacity":1,"stroke":"#111111","strokeWidth":1.8}},
{"transform":[{"filter":"indexof(datum.t,'C')>=0"}],"mark":{"type":"point","shape":"M-1,0L1,0M0,-1L0,1","filled":false,"size":500,"opacity":1,"stroke":"#1f3b60","strokeWidth":3}}]},
{"width":193,"height":171,"data":{"name":"r1c4"},
"encoding":{"x":{"field":"x","type":"quantitative","scale":{"domain":[-0.165,-0.0347],"nice":false,"zero":false},"axis":{"title":"p₃F","values":[-0.16,-0.12,-0.08,-0.04],"format":".2f"}},"y":{"field":"y","type":"quantitative","scale":{"domain":[-0.043,0.558],"nice":false,"zero":false},"axis":{"title":"p₄F","values":[0,0.2,0.4],"format":".1f"}}},
"layer":[
{"transform":[{"filter":"datum.t=='bg'"}],"mark":{"type":"rect"},"encoding":{"x2":{"field":"x2"},"y2":{"field":"y2"},"fill":{"field":"c","type":"nominal","scale":{"domain":["b","o"],"range":["#edf2f9","#fcf3ea"]},"legend":null}}},
{"transform":[{"filter":"datum.t=='av'"}],"mark":{"type":"area","orient":"vertical"},"encoding":{"y2":{"field":"y2"},"fill":{"field":"c","type":"nominal","scale":{"domain":["b","o"],"range":["#edf2f9","#fcf3ea"]},"legend":null}}},
{"transform":[{"filter":"datum.t=='ah'"}],"mark":{"type":"area","orient":"horizontal"},"encoding":{"x2":{"field":"x2"},"fill":{"field":"c","type":"nominal","scale":{"domain":["b","o"],"range":["#edf2f9","#fcf3ea"]},"legend":null}}},
{"transform":[{"filter":"datum.t=='ln'"}],"mark":{"type":"rule","strokeDash":[3,3],"color":"#333333","strokeWidth":1},"encoding":{"x2":{"field":"x2"},"y2":{"field":"y2"}}},
{"transform":[{"filter":"indexof(datum.t,'o')>=0"}],"mark":{"type":"point","shape":"circle","filled":true,"size":28,"fill":"#ec984c","opacity":1,"fillOpacity":0.9,"stroke":"#333333","strokeWidth":0.7}},
{"transform":[{"filter":"indexof(datum.t,'c')>=0"}],"mark":{"type":"point","shape":"M-1,0L1,0M0,-1L0,1","filled":false,"size":55,"opacity":1,"stroke":"#37567c","strokeOpacity":0.75,"strokeWidth":1.2}},
{"transform":[{"filter":"indexof(datum.t,'O')>=0"}],"mark":{"type":"point","shape":"circle","filled":true,"size":110,"fill":"#ee8a30","opacity":1,"stroke":"#111111","strokeWidth":1.8}},
{"transform":[{"filter":"indexof(datum.t,'C')>=0"}],"mark":{"type":"point","shape":"M-1,0L1,0M0,-1L0,1","filled":false,"size":500,"opacity":1,"stroke":"#1f3b60","strokeWidth":3}}]},
{"width":193,"height":171,"data":{"name":"r2c1"},
"encoding":{"x":{"field":"x","type":"quantitative","scale":{"domain":[-6.6,6.6],"nice":false,"zero":false},"axis":{"title":"Δv","values":[-6,0,6],"format":"d"}},"y":{"field":"y","type":"quantitative","scale":{"domain":[-0.024,0.504],"nice":false,"zero":false},"axis":{"title":"Normalized flux","titlePadding":8,"values":[0,0.1,0.2,0.3,0.4,0.5],"format":".1f"}},"detail":{"field":"s"}},
"layer":[
{"transform":[{"filter":"datum.s=='z'"}],"mark":{"type":"line","color":"#c8c8c8","strokeWidth":1}},
{"transform":[{"filter":"substring(datum.s,0,1)=='b'"}],"mark":{"type":"line","color":"#7d91a8","strokeWidth":0.8,"opacity":0.35,"interpolate":"monotone"}},
{"transform":[{"filter":"substring(datum.s,0,1)=='o'"}],"mark":{"type":"line","color":"#f09a55","strokeWidth":0.8,"opacity":0.35,"interpolate":"monotone"}},
{"transform":[{"filter":"datum.s=='O'"}],"mark":{"type":"line","color":"#ee8a30","strokeWidth":3,"interpolate":"monotone"}},
{"transform":[{"filter":"datum.s=='B'"}],"mark":{"type":"line","color":"#1d3c5e","strokeWidth":3,"interpolate":"monotone"}}]},
{"width":193,"height":171,"data":{"name":"r2c2"},
"encoding":{"x":{"field":"x","type":"quantitative","scale":{"domain":[1.606,3.56],"nice":false,"zero":false},"axis":{"title":"FWHM","values":[2,2.5,3,3.5],"format":".1f"}},"y":{"field":"y","type":"quantitative","scale":{"domain":[2.035,4.19],"nice":false,"zero":false},"axis":{"title":"W₈₀","values":[2.5,3,3.5,4],"format":".1f"}}},
"layer":[
{"transform":[{"filter":"datum.t=='bg'"}],"mark":{"type":"rect"},"encoding":{"x2":{"field":"x2"},"y2":{"field":"y2"},"fill":{"field":"c","type":"nominal","scale":{"domain":["b","o"],"range":["#edf2f9","#fcf3ea"]},"legend":null}}},
{"transform":[{"filter":"datum.t=='av'"}],"mark":{"type":"area","orient":"vertical"},"encoding":{"y2":{"field":"y2"},"fill":{"field":"c","type":"nominal","scale":{"domain":["b","o"],"range":["#edf2f9","#fcf3ea"]},"legend":null}}},
{"transform":[{"filter":"datum.t=='ah'"}],"mark":{"type":"area","orient":"horizontal"},"encoding":{"x2":{"field":"x2"},"fill":{"field":"c","type":"nominal","scale":{"domain":["b","o"],"range":["#edf2f9","#fcf3ea"]},"legend":null}}},
{"transform":[{"filter":"datum.t=='ln'"}],"mark":{"type":"rule","strokeDash":[3,3],"color":"#333333","strokeWidth":1},"encoding":{"x2":{"field":"x2"},"y2":{"field":"y2"}}},
{"transform":[{"filter":"indexof(datum.t,'o')>=0"}],"mark":{"type":"point","shape":"circle","filled":true,"size":28,"fill":"#ec984c","opacity":1,"fillOpacity":0.9,"stroke":"#333333","strokeWidth":0.7}},
{"transform":[{"filter":"indexof(datum.t,'c')>=0"}],"mark":{"type":"point","shape":"M-1,0L1,0M0,-1L0,1","filled":false,"size":55,"opacity":1,"stroke":"#37567c","strokeOpacity":0.75,"strokeWidth":1.2}},
{"transform":[{"filter":"indexof(datum.t,'O')>=0"}],"mark":{"type":"point","shape":"circle","filled":true,"size":110,"fill":"#ee8a30","opacity":1,"stroke":"#111111","strokeWidth":1.8}},
{"transform":[{"filter":"indexof(datum.t,'C')>=0"}],"mark":{"type":"point","shape":"M-1,0L1,0M0,-1L0,1","filled":false,"size":500,"opacity":1,"stroke":"#1f3b60","strokeWidth":3}}]},
{"width":193,"height":171,"data":{"name":"r2c3"},
"encoding":{"x":{"field":"x","type":"quantitative","scale":{"domain":[-0.604,0.604],"nice":false,"zero":false},"axis":{"title":"h̃₃","values":[-0.6,-0.3,0,0.3,0.6],"format":".1f"}},"y":{"field":"y","type":"quantitative","scale":{"domain":[-0.141,0.651],"nice":false,"zero":false},"axis":{"title":"h̃₄","values":[0,0.2,0.4,0.6],"format":".1f"}}},
"layer":[
{"transform":[{"filter":"datum.t=='bg'"}],"mark":{"type":"rect"},"encoding":{"x2":{"field":"x2"},"y2":{"field":"y2"},"fill":{"field":"c","type":"nominal","scale":{"domain":["b","o"],"range":["#edf2f9","#fcf3ea"]},"legend":null}}},
{"transform":[{"filter":"datum.t=='av'"}],"mark":{"type":"area","orient":"vertical"},"encoding":{"y2":{"field":"y2"},"fill":{"field":"c","type":"nominal","scale":{"domain":["b","o"],"range":["#edf2f9","#fcf3ea"]},"legend":null}}},
{"transform":[{"filter":"datum.t=='ah'"}],"mark":{"type":"area","orient":"horizontal"},"encoding":{"x2":{"field":"x2"},"fill":{"field":"c","type":"nominal","scale":{"domain":["b","o"],"range":["#edf2f9","#fcf3ea"]},"legend":null}}},
{"transform":[{"filter":"datum.t=='ln'"}],"mark":{"type":"rule","strokeDash":[3,3],"color":"#333333","strokeWidth":1},"encoding":{"x2":{"field":"x2"},"y2":{"field":"y2"}}},
{"transform":[{"filter":"indexof(datum.t,'o')>=0"}],"mark":{"type":"point","shape":"circle","filled":true,"size":28,"fill":"#ec984c","opacity":1,"fillOpacity":0.9,"stroke":"#333333","strokeWidth":0.7}},
{"transform":[{"filter":"indexof(datum.t,'c')>=0"}],"mark":{"type":"point","shape":"M-1,0L1,0M0,-1L0,1","filled":false,"size":55,"opacity":1,"stroke":"#37567c","strokeOpacity":0.75,"strokeWidth":1.2}},
{"transform":[{"filter":"indexof(datum.t,'O')>=0"}],"mark":{"type":"point","shape":"circle","filled":true,"size":110,"fill":"#ee8a30","opacity":1,"stroke":"#111111","strokeWidth":1.8}},
{"transform":[{"filter":"indexof(datum.t,'C')>=0"}],"mark":{"type":"point","shape":"M-1,0L1,0M0,-1L0,1","filled":false,"size":500,"opacity":1,"stroke":"#1f3b60","strokeWidth":3}}]},
{"width":193,"height":171,"data":{"name":"r2c4"},
"encoding":{"x":{"field":"x","type":"quantitative","scale":{"domain":[-0.3185,-0.1525],"nice":false,"zero":false},"axis":{"title":"p₂","values":[-0.28,-0.24,-0.2,-0.16],"format":".2f"}},"y":{"field":"y","type":"quantitative","scale":{"domain":[-0.023,0.023],"nice":false,"zero":false},"axis":{"title":"p₃ᵤ","values":[-0.02,-0.01,0,0.01,0.02],"format":".2f"}}},
"layer":[
{"transform":[{"filter":"datum.t=='bg'"}],"mark":{"type":"rect"},"encoding":{"x2":{"field":"x2"},"y2":{"field":"y2"},"fill":{"field":"c","type":"nominal","scale":{"domain":["b","o"],"range":["#edf2f9","#fcf3ea"]},"legend":null}}},
{"transform":[{"filter":"datum.t=='av'"}],"mark":{"type":"area","orient":"vertical"},"encoding":{"y2":{"field":"y2"},"fill":{"field":"c","type":"nominal","scale":{"domain":["b","o"],"range":["#edf2f9","#fcf3ea"]},"legend":null}}},
{"transform":[{"filter":"datum.t=='ah'"}],"mark":{"type":"area","orient":"horizontal"},"encoding":{"x2":{"field":"x2"},"fill":{"field":"c","type":"nominal","scale":{"domain":["b","o"],"range":["#edf2f9","#fcf3ea"]},"legend":null}}},
{"transform":[{"filter":"datum.t=='ln'"}],"mark":{"type":"rule","strokeDash":[3,3],"color":"#333333","strokeWidth":1},"encoding":{"x2":{"field":"x2"},"y2":{"field":"y2"}}},
{"transform":[{"filter":"indexof(datum.t,'o')>=0"}],"mark":{"type":"point","shape":"circle","filled":true,"size":28,"fill":"#ec984c","opacity":1,"fillOpacity":0.9,"stroke":"#333333","strokeWidth":0.7}},
{"transform":[{"filter":"indexof(datum.t,'c')>=0"}],"mark":{"type":"point","shape":"M-1,0L1,0M0,-1L0,1","filled":false,"size":55,"opacity":1,"stroke":"#37567c","strokeOpacity":0.75,"strokeWidth":1.2}},
{"transform":[{"filter":"indexof(datum.t,'O')>=0"}],"mark":{"type":"point","shape":"circle","filled":true,"size":110,"fill":"#ee8a30","opacity":1,"stroke":"#111111","strokeWidth":1.8}},
{"transform":[{"filter":"indexof(datum.t,'C')>=0"}],"mark":{"type":"point","shape":"M-1,0L1,0M0,-1L0,1","filled":false,"size":500,"opacity":1,"stroke":"#1f3b60","strokeWidth":3}}]},
{"width":193,"height":171,"data":{"name":"r3c1"},
"encoding":{"x":{"field":"x","type":"quantitative","scale":{"domain":[-6.6,6.6],"nice":false,"zero":false},"axis":{"title":"Δv","values":[-6,0,6],"format":"d"}},"y":{"field":"y","type":"quantitative","scale":{"domain":[-0.035,0.735],"nice":false,"zero":false},"axis":{"title":"Normalized flux","titlePadding":8,"values":[0,0.2,0.4,0.6],"format":".1f"}},"detail":{"field":"s"}},
"layer":[
{"transform":[{"filter":"datum.s=='z'"}],"mark":{"type":"line","color":"#c8c8c8","strokeWidth":1}},
{"transform":[{"filter":"substring(datum.s,0,1)=='b'"}],"mark":{"type":"line","color":"#7d91a8","strokeWidth":0.8,"opacity":0.35,"interpolate":"monotone"}},
{"transform":[{"filter":"substring(datum.s,0,1)=='o'"}],"mark":{"type":"line","color":"#f09a55","strokeWidth":0.8,"opacity":0.35,"interpolate":"monotone"}},
{"transform":[{"filter":"datum.s=='B'"}],"mark":{"type":"line","color":"#1d3c5e","strokeWidth":3,"interpolate":"monotone"}},
{"transform":[{"filter":"datum.s=='O'"}],"mark":{"type":"line","color":"#ee8a30","strokeWidth":3,"interpolate":"monotone"}}]},
{"width":193,"height":171,"data":{"name":"r3c2"},
"encoding":{"x":{"field":"x","type":"quantitative","scale":{"domain":[0.124,3.986],"nice":false,"zero":false},"axis":{"title":"FWHM","values":[1,2,3],"format":"d"}},"y":{"field":"y","type":"quantitative","scale":{"domain":[1.5,4.94],"nice":false,"zero":false},"axis":{"title":"W₈₀","values":[2,3,4],"format":"d"}}},
"layer":[
{"transform":[{"filter":"datum.t=='bg'"}],"mark":{"type":"rect"},"encoding":{"x2":{"field":"x2"},"y2":{"field":"y2"},"fill":{"field":"c","type":"nominal","scale":{"domain":["b","o"],"range":["#edf2f9","#fcf3ea"]},"legend":null}}},
{"transform":[{"filter":"datum.t=='av'"}],"mark":{"type":"area","orient":"vertical"},"encoding":{"y2":{"field":"y2"},"fill":{"field":"c","type":"nominal","scale":{"domain":["b","o"],"range":["#edf2f9","#fcf3ea"]},"legend":null}}},
{"transform":[{"filter":"datum.t=='ah'"}],"mark":{"type":"area","orient":"horizontal"},"encoding":{"x2":{"field":"x2"},"fill":{"field":"c","type":"nominal","scale":{"domain":["b","o"],"range":["#edf2f9","#fcf3ea"]},"legend":null}}},
{"transform":[{"filter":"datum.t=='ln'"}],"mark":{"type":"rule","strokeDash":[3,3],"color":"#333333","strokeWidth":1},"encoding":{"x2":{"field":"x2"},"y2":{"field":"y2"}}},
{"transform":[{"filter":"indexof(datum.t,'o')>=0"}],"mark":{"type":"point","shape":"circle","filled":true,"size":28,"fill":"#ec984c","opacity":1,"fillOpacity":0.9,"stroke":"#333333","strokeWidth":0.7}},
{"transform":[{"filter":"indexof(datum.t,'c')>=0"}],"mark":{"type":"point","shape":"M-1,0L1,0M0,-1L0,1","filled":false,"size":55,"opacity":1,"stroke":"#37567c","strokeOpacity":0.75,"strokeWidth":1.2}},
{"transform":[{"filter":"indexof(datum.t,'O')>=0"}],"mark":{"type":"point","shape":"circle","filled":true,"size":110,"fill":"#ee8a30","opacity":1,"stroke":"#111111","strokeWidth":1.8}},
{"transform":[{"filter":"indexof(datum.t,'C')>=0"}],"mark":{"type":"point","shape":"M-1,0L1,0M0,-1L0,1","filled":false,"size":500,"opacity":1,"stroke":"#1f3b60","strokeWidth":3}}]},
{"width":193,"height":171,"data":{"name":"r3c3"},
"encoding":{"x":{"field":"x","type":"quantitative","scale":{"domain":[-0.284,0.818],"nice":false,"zero":false},"axis":{"title":"h̃₃","values":[0,0.25,0.5],"format":".2f"}},"y":{"field":"y","type":"quantitative","scale":{"domain":[-0.168,0.812],"nice":false,"zero":false},"axis":{"title":"h̃₄","values":[0,0.2,0.4,0.6,0.8],"format":".1f"}}},
"layer":[
{"transform":[{"filter":"datum.t=='bg'"}],"mark":{"type":"rect"},"encoding":{"x2":{"field":"x2"},"y2":{"field":"y2"},"fill":{"field":"c","type":"nominal","scale":{"domain":["b","o"],"range":["#edf2f9","#fcf3ea"]},"legend":null}}},
{"transform":[{"filter":"datum.t=='av'"}],"mark":{"type":"area","orient":"vertical"},"encoding":{"y2":{"field":"y2"},"fill":{"field":"c","type":"nominal","scale":{"domain":["b","o"],"range":["#edf2f9","#fcf3ea"]},"legend":null}}},
{"transform":[{"filter":"datum.t=='ah'"}],"mark":{"type":"area","orient":"horizontal"},"encoding":{"x2":{"field":"x2"},"fill":{"field":"c","type":"nominal","scale":{"domain":["b","o"],"range":["#edf2f9","#fcf3ea"]},"legend":null}}},
{"transform":[{"filter":"datum.t=='ln'"}],"mark":{"type":"rule","strokeDash":[3,3],"color":"#333333","strokeWidth":1},"encoding":{"x2":{"field":"x2"},"y2":{"field":"y2"}}},
{"transform":[{"filter":"indexof(datum.t,'o')>=0"}],"mark":{"type":"point","shape":"circle","filled":true,"size":28,"fill":"#ec984c","opacity":1,"fillOpacity":0.9,"stroke":"#333333","strokeWidth":0.7}},
{"transform":[{"filter":"indexof(datum.t,'c')>=0"}],"mark":{"type":"point","shape":"M-1,0L1,0M0,-1L0,1","filled":false,"size":55,"opacity":1,"stroke":"#37567c","strokeOpacity":0.75,"strokeWidth":1.2}},
{"transform":[{"filter":"indexof(datum.t,'O')>=0"}],"mark":{"type":"point","shape":"circle","filled":true,"size":110,"fill":"#ee8a30","opacity":1,"stroke":"#111111","strokeWidth":1.8}},
{"transform":[{"filter":"indexof(datum.t,'C')>=0"}],"mark":{"type":"point","shape":"M-1,0L1,0M0,-1L0,1","filled":false,"size":500,"opacity":1,"stroke":"#1f3b60","strokeWidth":3}}]},
{"width":193,"height":171,"data":{"name":"r3c4"},
"encoding":{"x":{"field":"x","type":"quantitative","scale":{"domain":[-0.0221,0.0014],"nice":false,"zero":false},"axis":{"title":"p₃ᵤ","values":[-0.02,-0.015,-0.01,-0.005,0],"format":".3f"}},"y":{"field":"y","type":"quantitative","scale":{"domain":[-0.058,0.882],"nice":false,"zero":false},"axis":{"title":"p₄F","values":[0,0.2,0.4,0.6,0.8],"format":".1f"}}},
"layer":[
{"transform":[{"filter":"datum.t=='bg'"}],"mark":{"type":"rect"},"encoding":{"x2":{"field":"x2"},"y2":{"field":"y2"},"fill":{"field":"c","type":"nominal","scale":{"domain":["b","o"],"range":["#edf2f9","#fcf3ea"]},"legend":null}}},
{"transform":[{"filter":"datum.t=='av'"}],"mark":{"type":"area","orient":"vertical"},"encoding":{"y2":{"field":"y2"},"fill":{"field":"c","type":"nominal","scale":{"domain":["b","o"],"range":["#edf2f9","#fcf3ea"]},"legend":null}}},
{"transform":[{"filter":"datum.t=='ah'"}],"mark":{"type":"area","orient":"horizontal"},"encoding":{"x2":{"field":"x2"},"fill":{"field":"c","type":"nominal","scale":{"domain":["b","o"],"range":["#edf2f9","#fcf3ea"]},"legend":null}}},
{"transform":[{"filter":"datum.t=='ln'"}],"mark":{"type":"rule","strokeDash":[3,3],"color":"#333333","strokeWidth":1},"encoding":{"x2":{"field":"x2"},"y2":{"field":"y2"}}},
{"transform":[{"filter":"indexof(datum.t,'o')>=0"}],"mark":{"type":"point","shape":"circle","filled":true,"size":28,"fill":"#ec984c","opacity":1,"fillOpacity":0.9,"stroke":"#333333","strokeWidth":0.7}},
{"transform":[{"filter":"indexof(datum.t,'c')>=0"}],"mark":{"type":"point","shape":"M-1,0L1,0M0,-1L0,1","filled":false,"size":55,"opacity":1,"stroke":"#37567c","strokeOpacity":0.75,"strokeWidth":1.2}},
{"transform":[{"filter":"indexof(datum.t,'O')>=0"}],"mark":{"type":"point","shape":"circle","filled":true,"size":110,"fill":"#ee8a30","opacity":1,"stroke":"#111111","strokeWidth":1.8}},
{"transform":[{"filter":"indexof(datum.t,'C')>=0"}],"mark":{"type":"point","shape":"M-1,0L1,0M0,-1L0,1","filled":false,"size":500,"opacity":1,"stroke":"#1f3b60","strokeWidth":3}}]},
{"width":193,"height":171,"data":{"name":"r4c1"},
"encoding":{"x":{"field":"x","type":"quantitative","scale":{"domain":[-6.6,6.6],"nice":false,"zero":false},"axis":{"title":"Δv","values":[-6,0,6],"format":"d"}},"y":{"field":"y","type":"quantitative","scale":{"domain":[-0.77,1.055],"nice":false,"zero":false},"axis":{"title":"Normalized flux","titlePadding":4,"values":[-0.5,0,0.5,1],"format":".1f"}},"detail":{"field":"s"}},
"layer":[
{"transform":[{"filter":"datum.s=='z'"}],"mark":{"type":"line","color":"#c8c8c8","strokeWidth":1}},
{"transform":[{"filter":"substring(datum.s,0,1)=='b'"}],"mark":{"type":"line","color":"#7d91a8","strokeWidth":0.8,"opacity":0.35,"interpolate":"monotone"}},
{"transform":[{"filter":"substring(datum.s,0,1)=='o'"}],"mark":{"type":"line","color":"#f09a55","strokeWidth":0.8,"opacity":0.35,"interpolate":"monotone"}},
{"transform":[{"filter":"datum.s=='B'"}],"mark":{"type":"line","color":"#1d3c5e","strokeWidth":3,"interpolate":"monotone"}},
{"transform":[{"filter":"datum.s=='O'"}],"mark":{"type":"line","color":"#ee8a30","strokeWidth":3,"interpolate":"monotone"}}]},
{"width":193,"height":171,"data":{"name":"r4c2"},
"encoding":{"x":{"field":"x","type":"quantitative","scale":{"domain":[0.03,3.99],"nice":false,"zero":false},"axis":{"title":"FWHM","values":[1,2,3],"format":"d"}},"y":{"field":"y","type":"quantitative","scale":{"domain":[1.39,4.11],"nice":false,"zero":false},"axis":{"title":"W₈₀","values":[1.5,2,2.5,3,3.5,4],"format":".1f"}}},
"layer":[
{"transform":[{"filter":"datum.t=='bg'"}],"mark":{"type":"rect"},"encoding":{"x2":{"field":"x2"},"y2":{"field":"y2"},"fill":{"field":"c","type":"nominal","scale":{"domain":["b","o"],"range":["#edf2f9","#fcf3ea"]},"legend":null}}},
{"transform":[{"filter":"datum.t=='av'"}],"mark":{"type":"area","orient":"vertical"},"encoding":{"y2":{"field":"y2"},"fill":{"field":"c","type":"nominal","scale":{"domain":["b","o"],"range":["#edf2f9","#fcf3ea"]},"legend":null}}},
{"transform":[{"filter":"datum.t=='ah'"}],"mark":{"type":"area","orient":"horizontal"},"encoding":{"x2":{"field":"x2"},"fill":{"field":"c","type":"nominal","scale":{"domain":["b","o"],"range":["#edf2f9","#fcf3ea"]},"legend":null}}},
{"transform":[{"filter":"datum.t=='ln'"}],"mark":{"type":"rule","strokeDash":[3,3],"color":"#333333","strokeWidth":1},"encoding":{"x2":{"field":"x2"},"y2":{"field":"y2"}}},
{"transform":[{"filter":"indexof(datum.t,'o')>=0"}],"mark":{"type":"point","shape":"circle","filled":true,"size":28,"fill":"#ec984c","opacity":1,"fillOpacity":0.9,"stroke":"#333333","strokeWidth":0.7}},
{"transform":[{"filter":"indexof(datum.t,'c')>=0"}],"mark":{"type":"point","shape":"M-1,0L1,0M0,-1L0,1","filled":false,"size":55,"opacity":1,"stroke":"#37567c","strokeOpacity":0.75,"strokeWidth":1.2}},
{"transform":[{"filter":"indexof(datum.t,'O')>=0"}],"mark":{"type":"point","shape":"circle","filled":true,"size":110,"fill":"#ee8a30","opacity":1,"stroke":"#111111","strokeWidth":1.8}},
{"transform":[{"filter":"indexof(datum.t,'C')>=0"}],"mark":{"type":"point","shape":"M-1,0L1,0M0,-1L0,1","filled":false,"size":500,"opacity":1,"stroke":"#1f3b60","strokeWidth":3}}]},
{"width":193,"height":171,"data":{"name":"r4c3"},
"encoding":{"x":{"field":"x","type":"quantitative","scale":{"domain":[-0.56,0.49],"nice":false,"zero":false},"axis":{"title":"h̃₃","values":[-0.5,-0.25,0,0.25],"format":".2f"}},"y":{"field":"y","type":"quantitative","scale":{"domain":[-0.32,0.622],"nice":false,"zero":false},"axis":{"title":"h̃₄","values":[-0.2,0,0.2,0.4,0.6],"format":".1f"}}},
"layer":[
{"transform":[{"filter":"datum.t=='bg'"}],"mark":{"type":"rect"},"encoding":{"x2":{"field":"x2"},"y2":{"field":"y2"},"fill":{"field":"c","type":"nominal","scale":{"domain":["b","o"],"range":["#edf2f9","#fcf3ea"]},"legend":null}}},
{"transform":[{"filter":"datum.t=='av'"}],"mark":{"type":"area","orient":"vertical"},"encoding":{"y2":{"field":"y2"},"fill":{"field":"c","type":"nominal","scale":{"domain":["b","o"],"range":["#edf2f9","#fcf3ea"]},"legend":null}}},
{"transform":[{"filter":"datum.t=='ah'"}],"mark":{"type":"area","orient":"horizontal"},"encoding":{"x2":{"field":"x2"},"fill":{"field":"c","type":"nominal","scale":{"domain":["b","o"],"range":["#edf2f9","#fcf3ea"]},"legend":null}}},
{"transform":[{"filter":"datum.t=='ln'"}],"mark":{"type":"rule","strokeDash":[3,3],"color":"#333333","strokeWidth":1},"encoding":{"x2":{"field":"x2"},"y2":{"field":"y2"}}},
{"transform":[{"filter":"indexof(datum.t,'o')>=0"}],"mark":{"type":"point","shape":"circle","filled":true,"size":28,"fill":"#ec984c","opacity":1,"fillOpacity":0.9,"stroke":"#333333","strokeWidth":0.7}},
{"transform":[{"filter":"indexof(datum.t,'c')>=0"}],"mark":{"type":"point","shape":"M-1,0L1,0M0,-1L0,1","filled":false,"size":55,"opacity":1,"stroke":"#37567c","strokeOpacity":0.75,"strokeWidth":1.2}},
{"transform":[{"filter":"indexof(datum.t,'O')>=0"}],"mark":{"type":"point","shape":"circle","filled":true,"size":110,"fill":"#ee8a30","opacity":1,"stroke":"#111111","strokeWidth":1.8}},
{"transform":[{"filter":"indexof(datum.t,'C')>=0"}],"mark":{"type":"point","shape":"M-1,0L1,0M0,-1L0,1","filled":false,"size":500,"opacity":1,"stroke":"#1f3b60","strokeWidth":3}}]},
{"width":193,"height":171,"data":{"name":"r4c4"},
"encoding":{"x":{"field":"x","type":"quantitative","scale":{"domain":[-0.675,0.62],"nice":false,"zero":false},"axis":{"title":"p±","values":[-0.6,-0.3,0,0.3,0.6],"format":".1f"}},"y":{"field":"y","type":"quantitative","scale":{"domain":[-0.0051,0.0085],"nice":false,"zero":false},"axis":{"title":"p₄F","values":[-0.005,0,0.005],"format":".3f"}}},
"layer":[
{"transform":[{"filter":"datum.t=='bg'"}],"mark":{"type":"rect"},"encoding":{"x2":{"field":"x2"},"y2":{"field":"y2"},"fill":{"field":"c","type":"nominal","scale":{"domain":["b","o"],"range":["#edf2f9","#fcf3ea"]},"legend":null}}},
{"transform":[{"filter":"datum.t=='av'"}],"mark":{"type":"area","orient":"vertical"},"encoding":{"y2":{"field":"y2"},"fill":{"field":"c","type":"nominal","scale":{"domain":["b","o"],"range":["#edf2f9","#fcf3ea"]},"legend":null}}},
{"transform":[{"filter":"datum.t=='ah'"}],"mark":{"type":"area","orient":"horizontal"},"encoding":{"x2":{"field":"x2"},"fill":{"field":"c","type":"nominal","scale":{"domain":["b","o"],"range":["#edf2f9","#fcf3ea"]},"legend":null}}},
{"transform":[{"filter":"datum.t=='ln'"}],"mark":{"type":"rule","strokeDash":[3,3],"color":"#333333","strokeWidth":1},"encoding":{"x2":{"field":"x2"},"y2":{"field":"y2"}}},
{"transform":[{"filter":"indexof(datum.t,'o')>=0"}],"mark":{"type":"point","shape":"circle","filled":true,"size":28,"fill":"#ec984c","opacity":1,"fillOpacity":0.9,"stroke":"#333333","strokeWidth":0.7}},
{"transform":[{"filter":"indexof(datum.t,'c')>=0"}],"mark":{"type":"point","shape":"M-1,0L1,0M0,-1L0,1","filled":false,"size":55,"opacity":1,"stroke":"#37567c","strokeOpacity":0.75,"strokeWidth":1.2}},
{"transform":[{"filter":"indexof(datum.t,'O')>=0"}],"mark":{"type":"point","shape":"circle","filled":true,"size":110,"fill":"#ee8a30","opacity":1,"stroke":"#111111","strokeWidth":1.8}},
{"transform":[{"filter":"indexof(datum.t,'C')>=0"}],"mark":{"type":"point","shape":"M-1,0L1,0M0,-1L0,1","filled":false,"size":500,"opacity":1,"stroke":"#1f3b60","strokeWidth":3}}]}
]
}
